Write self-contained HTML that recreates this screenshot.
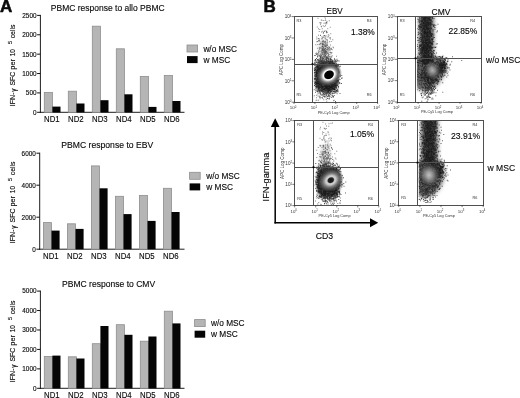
<!DOCTYPE html>
<html><head><meta charset="utf-8"><title>Figure</title>
<style>html,body{margin:0;padding:0;background:#fff;overflow:hidden}svg{display:block}text{font-family:"Liberation Sans",sans-serif;fill:#0a0a0a;stroke:#0a0a0a;stroke-width:.13px}text.t{stroke:none;fill:#333}</style>
</head><body>
<svg width="520" height="398" viewBox="0 0 520 398">
<rect width="520" height="398" fill="#fff"/>
<line x1="40.4" y1="14.9" x2="40.4" y2="112.8" stroke="#111" stroke-width="0.95"/>
<line x1="39.9" y1="112.3" x2="184.5" y2="112.3" stroke="#111" stroke-width="0.95"/>
<line x1="37.1" y1="112.3" x2="40.4" y2="112.3" stroke="#111" stroke-width="1.0"/>
<text x="36.5" y="114.65" font-size="6.4" text-anchor="end">0</text>
<line x1="37.1" y1="92.92" x2="40.4" y2="92.92" stroke="#111" stroke-width="1.0"/>
<text x="36.5" y="95.27" font-size="6.4" text-anchor="end">500</text>
<line x1="37.1" y1="73.53999999999999" x2="40.4" y2="73.53999999999999" stroke="#111" stroke-width="1.0"/>
<text x="36.5" y="75.89" font-size="6.4" text-anchor="end">1000</text>
<line x1="37.1" y1="54.16" x2="40.4" y2="54.16" stroke="#111" stroke-width="1.0"/>
<text x="36.5" y="56.51" font-size="6.4" text-anchor="end">1500</text>
<line x1="37.1" y1="34.78" x2="40.4" y2="34.78" stroke="#111" stroke-width="1.0"/>
<text x="36.5" y="37.13" font-size="6.4" text-anchor="end">2000</text>
<line x1="37.1" y1="15.400000000000006" x2="40.4" y2="15.400000000000006" stroke="#111" stroke-width="1.0"/>
<text x="36.5" y="17.75" font-size="6.4" text-anchor="end">2500</text>
<text x="50.8" y="11.0" font-size="8.6" textLength="113.8" lengthAdjust="spacingAndGlyphs">PBMC response to allo PBMC</text>
<rect x="44.30" y="92.50" width="8.10" height="19.80" fill="#b5b5b5" stroke="#8e8e8e" stroke-width="0.8"/>
<rect x="52.40" y="106.60" width="8.10" height="5.70" fill="#050505"/>
<text x="51.8" y="121.9" font-size="8.5" text-anchor="middle" textLength="15.6" lengthAdjust="spacingAndGlyphs">ND1</text>
<rect x="68.30" y="91.20" width="8.10" height="21.10" fill="#b5b5b5" stroke="#8e8e8e" stroke-width="0.8"/>
<rect x="76.40" y="103.50" width="8.10" height="8.80" fill="#050505"/>
<text x="75.8" y="121.9" font-size="8.5" text-anchor="middle" textLength="15.6" lengthAdjust="spacingAndGlyphs">ND2</text>
<rect x="92.30" y="26.20" width="8.10" height="86.10" fill="#b5b5b5" stroke="#8e8e8e" stroke-width="0.8"/>
<rect x="100.40" y="100.20" width="8.10" height="12.10" fill="#050505"/>
<text x="99.8" y="121.9" font-size="8.5" text-anchor="middle" textLength="15.6" lengthAdjust="spacingAndGlyphs">ND3</text>
<rect x="116.30" y="48.80" width="8.10" height="63.50" fill="#b5b5b5" stroke="#8e8e8e" stroke-width="0.8"/>
<rect x="124.40" y="94.30" width="8.10" height="18.00" fill="#050505"/>
<text x="123.8" y="121.9" font-size="8.5" text-anchor="middle" textLength="15.6" lengthAdjust="spacingAndGlyphs">ND4</text>
<rect x="140.30" y="76.50" width="8.10" height="35.80" fill="#b5b5b5" stroke="#8e8e8e" stroke-width="0.8"/>
<rect x="148.40" y="106.90" width="8.10" height="5.40" fill="#050505"/>
<text x="147.8" y="121.9" font-size="8.5" text-anchor="middle" textLength="15.6" lengthAdjust="spacingAndGlyphs">ND5</text>
<rect x="164.30" y="75.50" width="8.10" height="36.80" fill="#b5b5b5" stroke="#8e8e8e" stroke-width="0.8"/>
<rect x="172.40" y="101.00" width="8.10" height="11.30" fill="#050505"/>
<text x="171.8" y="121.9" font-size="8.5" text-anchor="middle" textLength="15.6" lengthAdjust="spacingAndGlyphs">ND6</text>
<rect x="187.00" y="45.00" width="10.60" height="7.00" fill="#b5b5b5" stroke="#8e8e8e" stroke-width="0.8"/>
<rect x="187.00" y="56.10" width="10.60" height="7.00" fill="#050505"/>
<text x="203.4" y="51.5" font-size="8.6" textLength="33.6" lengthAdjust="spacingAndGlyphs">w/o MSC</text>
<text x="203.4" y="62.6" font-size="8.6" textLength="26.8" lengthAdjust="spacingAndGlyphs">w MSC</text>
<text transform="translate(15.4,106.3) rotate(-90)" font-size="7.2" textLength="13.8" lengthAdjust="spacingAndGlyphs">IFN-</text>
<text transform="translate(16.4,91.8) rotate(-90)" font-size="6.4">γ</text>
<text transform="translate(15.4,85.6) rotate(-90)" font-size="7.2" textLength="14.0" lengthAdjust="spacingAndGlyphs">SFC</text>
<text transform="translate(15.4,69.7) rotate(-90)" font-size="7.2" textLength="10.6" lengthAdjust="spacingAndGlyphs">per</text>
<text transform="translate(15.4,56.3) rotate(-90)" font-size="7.2" textLength="7.2" lengthAdjust="spacingAndGlyphs">10</text>
<text transform="translate(12.4,44.1) rotate(-90)" font-size="5.4">5</text>
<text transform="translate(15.4,38.3) rotate(-90)" font-size="7.2" textLength="13.6" lengthAdjust="spacingAndGlyphs">cells</text>
<line x1="39.7" y1="152.7" x2="39.7" y2="249.7" stroke="#111" stroke-width="0.95"/>
<line x1="39.2" y1="249.2" x2="184.5" y2="249.2" stroke="#111" stroke-width="0.95"/>
<line x1="36.400000000000006" y1="249.2" x2="39.7" y2="249.2" stroke="#111" stroke-width="1.0"/>
<text x="35.800000000000004" y="251.55" font-size="6.4" text-anchor="end">0</text>
<line x1="36.400000000000006" y1="217.2" x2="39.7" y2="217.2" stroke="#111" stroke-width="1.0"/>
<text x="35.800000000000004" y="219.55" font-size="6.4" text-anchor="end">2000</text>
<line x1="36.400000000000006" y1="185.2" x2="39.7" y2="185.2" stroke="#111" stroke-width="1.0"/>
<text x="35.800000000000004" y="187.55" font-size="6.4" text-anchor="end">4000</text>
<line x1="36.400000000000006" y1="153.2" x2="39.7" y2="153.2" stroke="#111" stroke-width="1.0"/>
<text x="35.800000000000004" y="155.55" font-size="6.4" text-anchor="end">6000</text>
<text x="61.3" y="148.4" font-size="8.6" textLength="91.9" lengthAdjust="spacingAndGlyphs">PBMC response to EBV</text>
<rect x="43.40" y="222.60" width="8.10" height="26.60" fill="#b5b5b5" stroke="#8e8e8e" stroke-width="0.8"/>
<rect x="51.50" y="230.60" width="8.10" height="18.60" fill="#050505"/>
<text x="50.9" y="258.8" font-size="8.5" text-anchor="middle" textLength="15.6" lengthAdjust="spacingAndGlyphs">ND1</text>
<rect x="67.40" y="223.80" width="8.10" height="25.40" fill="#b5b5b5" stroke="#8e8e8e" stroke-width="0.8"/>
<rect x="75.50" y="228.90" width="8.10" height="20.30" fill="#050505"/>
<text x="74.9" y="258.8" font-size="8.5" text-anchor="middle" textLength="15.6" lengthAdjust="spacingAndGlyphs">ND2</text>
<rect x="91.40" y="165.90" width="8.10" height="83.30" fill="#b5b5b5" stroke="#8e8e8e" stroke-width="0.8"/>
<rect x="99.50" y="188.30" width="8.10" height="60.90" fill="#050505"/>
<text x="98.9" y="258.8" font-size="8.5" text-anchor="middle" textLength="15.6" lengthAdjust="spacingAndGlyphs">ND3</text>
<rect x="115.40" y="196.30" width="8.10" height="52.90" fill="#b5b5b5" stroke="#8e8e8e" stroke-width="0.8"/>
<rect x="123.50" y="214.10" width="8.10" height="35.10" fill="#050505"/>
<text x="122.9" y="258.8" font-size="8.5" text-anchor="middle" textLength="15.6" lengthAdjust="spacingAndGlyphs">ND4</text>
<rect x="139.40" y="195.50" width="8.10" height="53.70" fill="#b5b5b5" stroke="#8e8e8e" stroke-width="0.8"/>
<rect x="147.50" y="220.90" width="8.10" height="28.30" fill="#050505"/>
<text x="146.9" y="258.8" font-size="8.5" text-anchor="middle" textLength="15.6" lengthAdjust="spacingAndGlyphs">ND5</text>
<rect x="163.40" y="188.30" width="8.10" height="60.90" fill="#b5b5b5" stroke="#8e8e8e" stroke-width="0.8"/>
<rect x="171.50" y="212.00" width="8.10" height="37.20" fill="#050505"/>
<text x="170.9" y="258.8" font-size="8.5" text-anchor="middle" textLength="15.6" lengthAdjust="spacingAndGlyphs">ND6</text>
<rect x="189.60" y="172.30" width="10.60" height="7.00" fill="#b5b5b5" stroke="#8e8e8e" stroke-width="0.8"/>
<rect x="189.60" y="183.40" width="10.60" height="7.00" fill="#050505"/>
<text x="206.2" y="178.8" font-size="8.6" textLength="33.6" lengthAdjust="spacingAndGlyphs">w/o MSC</text>
<text x="206.2" y="189.9" font-size="8.6" textLength="26.8" lengthAdjust="spacingAndGlyphs">w MSC</text>
<text transform="translate(15.4,243.2) rotate(-90)" font-size="7.2" textLength="13.8" lengthAdjust="spacingAndGlyphs">IFN-</text>
<text transform="translate(16.4,228.7) rotate(-90)" font-size="6.4">γ</text>
<text transform="translate(15.4,222.5) rotate(-90)" font-size="7.2" textLength="14.0" lengthAdjust="spacingAndGlyphs">SFC</text>
<text transform="translate(15.4,206.6) rotate(-90)" font-size="7.2" textLength="10.6" lengthAdjust="spacingAndGlyphs">per</text>
<text transform="translate(15.4,193.2) rotate(-90)" font-size="7.2" textLength="7.2" lengthAdjust="spacingAndGlyphs">10</text>
<text transform="translate(12.4,181.0) rotate(-90)" font-size="5.4">5</text>
<text transform="translate(15.4,175.2) rotate(-90)" font-size="7.2" textLength="13.6" lengthAdjust="spacingAndGlyphs">cells</text>
<line x1="40.4" y1="290.6" x2="40.4" y2="388.8" stroke="#111" stroke-width="0.95"/>
<line x1="39.9" y1="388.3" x2="184.5" y2="388.3" stroke="#111" stroke-width="0.95"/>
<line x1="37.1" y1="388.3" x2="40.4" y2="388.3" stroke="#111" stroke-width="1.0"/>
<text x="36.5" y="390.65" font-size="6.4" text-anchor="end">0</text>
<line x1="37.1" y1="368.86" x2="40.4" y2="368.86" stroke="#111" stroke-width="1.0"/>
<text x="36.5" y="371.21" font-size="6.4" text-anchor="end">1000</text>
<line x1="37.1" y1="349.42" x2="40.4" y2="349.42" stroke="#111" stroke-width="1.0"/>
<text x="36.5" y="351.77" font-size="6.4" text-anchor="end">2000</text>
<line x1="37.1" y1="329.98" x2="40.4" y2="329.98" stroke="#111" stroke-width="1.0"/>
<text x="36.5" y="332.33" font-size="6.4" text-anchor="end">3000</text>
<line x1="37.1" y1="310.54" x2="40.4" y2="310.54" stroke="#111" stroke-width="1.0"/>
<text x="36.5" y="312.89" font-size="6.4" text-anchor="end">4000</text>
<line x1="37.1" y1="291.1" x2="40.4" y2="291.1" stroke="#111" stroke-width="1.0"/>
<text x="36.5" y="293.45" font-size="6.4" text-anchor="end">5000</text>
<text x="62.0" y="286.6" font-size="8.6" textLength="93.2" lengthAdjust="spacingAndGlyphs">PBMC response to CMV</text>
<rect x="44.30" y="356.40" width="8.10" height="31.90" fill="#b5b5b5" stroke="#8e8e8e" stroke-width="0.8"/>
<rect x="52.40" y="355.60" width="8.10" height="32.70" fill="#050505"/>
<text x="51.8" y="397.9" font-size="8.5" text-anchor="middle" textLength="15.6" lengthAdjust="spacingAndGlyphs">ND1</text>
<rect x="68.30" y="356.80" width="8.10" height="31.50" fill="#b5b5b5" stroke="#8e8e8e" stroke-width="0.8"/>
<rect x="76.40" y="358.50" width="8.10" height="29.80" fill="#050505"/>
<text x="75.8" y="397.9" font-size="8.5" text-anchor="middle" textLength="15.6" lengthAdjust="spacingAndGlyphs">ND2</text>
<rect x="92.30" y="343.70" width="8.10" height="44.60" fill="#b5b5b5" stroke="#8e8e8e" stroke-width="0.8"/>
<rect x="100.40" y="326.00" width="8.10" height="62.30" fill="#050505"/>
<text x="99.8" y="397.9" font-size="8.5" text-anchor="middle" textLength="15.6" lengthAdjust="spacingAndGlyphs">ND3</text>
<rect x="116.30" y="324.70" width="8.10" height="63.60" fill="#b5b5b5" stroke="#8e8e8e" stroke-width="0.8"/>
<rect x="124.40" y="334.80" width="8.10" height="53.50" fill="#050505"/>
<text x="123.8" y="397.9" font-size="8.5" text-anchor="middle" textLength="15.6" lengthAdjust="spacingAndGlyphs">ND4</text>
<rect x="140.30" y="341.20" width="8.10" height="47.10" fill="#b5b5b5" stroke="#8e8e8e" stroke-width="0.8"/>
<rect x="148.40" y="336.50" width="8.10" height="51.80" fill="#050505"/>
<text x="147.8" y="397.9" font-size="8.5" text-anchor="middle" textLength="15.6" lengthAdjust="spacingAndGlyphs">ND5</text>
<rect x="164.30" y="311.20" width="8.10" height="77.10" fill="#b5b5b5" stroke="#8e8e8e" stroke-width="0.8"/>
<rect x="172.40" y="323.40" width="8.10" height="64.90" fill="#050505"/>
<text x="171.8" y="397.9" font-size="8.5" text-anchor="middle" textLength="15.6" lengthAdjust="spacingAndGlyphs">ND6</text>
<rect x="194.60" y="319.60" width="10.60" height="7.00" fill="#b5b5b5" stroke="#8e8e8e" stroke-width="0.8"/>
<rect x="194.60" y="330.70" width="10.60" height="7.00" fill="#050505"/>
<text x="211.0" y="326.1" font-size="8.6" textLength="33.6" lengthAdjust="spacingAndGlyphs">w/o MSC</text>
<text x="211.0" y="337.2" font-size="8.6" textLength="26.8" lengthAdjust="spacingAndGlyphs">w MSC</text>
<text transform="translate(15.4,382.3) rotate(-90)" font-size="7.2" textLength="13.8" lengthAdjust="spacingAndGlyphs">IFN-</text>
<text transform="translate(16.4,367.8) rotate(-90)" font-size="6.4">γ</text>
<text transform="translate(15.4,361.6) rotate(-90)" font-size="7.2" textLength="14.0" lengthAdjust="spacingAndGlyphs">SFC</text>
<text transform="translate(15.4,345.7) rotate(-90)" font-size="7.2" textLength="10.6" lengthAdjust="spacingAndGlyphs">per</text>
<text transform="translate(15.4,332.3) rotate(-90)" font-size="7.2" textLength="7.2" lengthAdjust="spacingAndGlyphs">10</text>
<text transform="translate(12.4,320.1) rotate(-90)" font-size="5.4">5</text>
<text transform="translate(15.4,314.3) rotate(-90)" font-size="7.2" textLength="13.6" lengthAdjust="spacingAndGlyphs">cells</text>
<text x="0.1" y="12.4" font-size="17.0" font-weight="bold" style="stroke-width:.55px">A</text>
<text x="263.4" y="12.3" font-size="17.0" font-weight="bold" style="stroke-width:.55px">B</text>
<defs><filter id="b0" x="-5%" y="-5%" width="110%" height="110%"><feGaussianBlur stdDeviation="1.4"/></filter><filter id="b1" x="-30%" y="-30%" width="160%" height="160%"><feGaussianBlur stdDeviation="1.3"/></filter><filter id="b2" x="-30%" y="-30%" width="160%" height="160%"><feGaussianBlur stdDeviation="2"/></filter></defs>
<clipPath id="c29416"><rect x="313.8" y="16.6" width="63.80000000000001" height="85.6"/></clipPath>
<g clip-path="url(#c29416)">
<rect x="314.8" y="60.8" width="23.6" height="31" rx="9" ry="10" fill="#505050" filter="url(#b1)"/>
<ellipse cx="323.5" cy="52.8" rx="4.6" ry="14" fill="#999" opacity=".5" filter="url(#b2)"/>
<path transform="scale(.25)" d="m1266 217h0m20 4h0m16 2h0m-19 2h0m1 2h0m22 2h0m-24 1h0m33 3h0m7 0h0m-56 1h0m29 0h0m-14 1h0m10 0h0m-47 1h0m39 0h0m23 0h0m14 0h0m-15 1h0m9 0h0m-52 1h0m8 0h0m5 0h0m48 0h0m-44 3h0m36 0h0m-42 1h0m56 0h0m-42 1h0m22 1h0m20 1h0m-46 1h0m31 0h0m7 1h0m-42 1h0m16 0h0m9 1h0m-16 1h0m3 1h0m8 0h0m5 0h0m16 0h0m-43 1h0m15 0h0m29 0h0m18 0h0m1 0h0m-39 1h0m-20 1h0m40 0h0m-27 1h0m45 1h0m-67 1h0m27 0h0m26 0h0m-26 1h0m4 0h0m34 0h0m-36 1h0m2 0h0m5 0h0m14 0h0m2 1h0m1 0h0m3 0h0m15 0h0m-86 1h0m35 0h0m5 0h0m1 0h0m6 0h0m8 0h0m3 0h0m-36 1h0m51 0h0m-60 1h0m10 0h0m27 0h0m2 0h0m16 0h0m16 0h0m2 0h0m-71 1h0m26 0h0m5 0h0m-16 1h0m8 0h0m8 0h0m1 0h0m1 0h0m1 0h0m10 0h0m-26 1h0m4 0h0m7 0h0m12 0h0m-10 1h0m18 0h0m16 0h0m16 0h0m-86 1h0m3 0h0m28 0h0m6 0h0m1 0h0m-17 1h0m9 0h0m3 0h0m11 0h0m16 0h0m-64 1h0m11 0h0m7 0h0m3 0h0m3 0h0m15 0h0m15 0h0m6 0h0m2 0h0m2 0h0m-29 1h0m1 0h0m9 0h0m32 0h0m-57 1h0m7 0h0m6 0h0m11 0h0m1 0h0m1 0h0m10 0h0m-61 1h0m23 0h0m13 0h0m2 0h0m31 0h0m-38 1h0m2 0h0m2 0h0m9 0h0m11 0h0m24 0h0m-61 1h0m12 0h0m3 0h0m6 0h0m23 0h0m-42 1h0m4 0h0m7 0h0m11 0h0m13 0h0m2 0h0m-38 1h0m18 0h0m5 0h0m8 0h0m1 0h0m1 0h0m5 0h0m2 0h0m-78 1h0m38 0h0m6 0h0m13 0h0m5 0h0m15 0h0m3 0h0m1 0h0m3 0h0m1 0h0m2 0h0m4 0h0m5 0h0m1 0h0m7 0h0m10 0h0m-97 1h0m26 0h0m10 0h0m5 0h0m1 0h0m7 0h0m14 0h0m26 0h0m-73 1h0m6 0h0m8 0h0m12 0h0m7 0h0m5 0h0m5 0h0m28 0h0m-85 1h0m12 0h0m2 0h0m9 0h0m2 0h0m4 0h0m5 0h0m20 0h0m10 0h0m5 0h0m15 0h0m-83 1h0m20 0h0m24 0h0m4 0h0m8 0h0m-50 1h0m18 0h0m9 0h0m3 0h0m19 0h0m13 0h0m3 0h0m15 0h0m9 0h0m-74 1h0m6 0h0m23 0h0m2 0h0m44 0h0m-109 1h0m42 0h0m1 0h0m4 0h0m3 0h0m1 0h0m4 0h0m2 0h0m9 0h0m9 0h0m2 0h0m3 0h0m4 0h0m16 0h0m-106 1h0m42 0h0m1 0h0m1 0h0m2 0h0m9 0h0m19 0h0m3 0h0m1 0h0m2 0h0m6 0h0m3 0h0m-52 1h0m10 0h0m8 0h0m8 0h0m21 0h0m3 0h0m20 0h0m-119 1h0m55 0h0m12 0h0m4 0h0m3 0h0m-25 1h0m17 0h0m10 0h0m4 0h0m40 0h0m6 0h0m-88 1h0m3 0h0m10 0h0m14 0h0m11 0h0m34 0h0m4 0h0m-85 1h0m1 0h0m3 0h0m5 0h0m31 0h0m2 0h0m6 0h0m49 0h0m-88 1h0m1 0h0m18 0h0m3 0h0m3 0h0m4 0h0m18 0h0m1 0h0m6 0h0m2 0h0m5 0h0m3 0h0m-36 1h0m8 0h0m9 0h0m7 0h0m5 0h0m17 0h0m16 0h0m-86 1h0m29 0h0m5 0h0m2 0h0m4 0h0m6 0h0m7 0h0m2 0h0m19 0h0m-70 1h0m8 0h0m17 0h0m3 0h0m13 0h0m4 0h0m13 0h0m11 0h0m8 0h0m-68 1h0m9 0h0m6 0h0m3 0h0m2 0h0m3 0h0m2 0h0m6 0h0m6 0h0m17 0h0m1 0h0m15 0h0m-88 1h0m15 0h0m4 0h0m17 0h0m4 0h0m7 0h0m5 0h0m5 0h0m15 0h0m-54 1h0m7 0h0m1 0h0m12 0h0m14 0h0m6 0h0m2 0h0m-60 1h0m17 0h0m12 0h0m16 0h0m20 0h0m21 0h0m-71 1h0m3 0h0m9 0h0m6 0h0m1 0h0m2 0h0m5 0h0m35 0h0m6 0h0m14 0h0m-82 1h0m2 0h0m4 0h0m3 0h0m3 0h0m10 0h0m4 0h0m2 0h0m4 0h0m3 0h0m8 0h0m6 0h0m23 0h0m-81 1h0m12 0h0m5 0h0m1 0h0m5 0h0m9 0h0m2 0h0m1 0h0m8 0h0m54 0h0m-87 1h0m6 0h0m2 0h0m12 0h0m5 0h0m1 0h0m3 0h0m14 0h0m9 0h0m2 0h0m-73 1h0m19 0h0m5 0h0m17 0h0m1 0h0m5 0h0m17 0h0m13 0h0m23 0h0m-96 1h0m15 0h0m9 0h0m1 0h0m13 0h0m8 0h0m11 0h0m10 0h0m2 0h0m1 0h0m-75 1h0m7 0h0m8 0h0m3 0h0m16 0h0m3 0h0m3 0h0m10 0h0m8 0h0m4 0h0m12 0h0m5 0h0m21 0h0m-92 1h0m13 0h0m12 0h0m11 0h0m11 0h0m4 0h0m9 0h0m2 0h0m1 0h0m4 0h0m4 0h0m-55 1h0m18 0h0m6 0h0m3 0h0m1 0h0m4 0h0m1 0h0m-43 1h0m17 0h0m5 0h0m10 0h0m6 0h0m2 0h0m2 0h0m17 0h0m-63 1h0m22 0h0m5 0h0m12 0h0m4 0h0m6 0h0m4 0h0m15 0h0m4 0h0m1 0h0m-59 1h0m14 0h0m2 0h0m3 0h0m3 0h0m2 0h0m1 0h0m2 0h0m7 0h0m8 0h0m8 0h0m34 0h0m-97 1h0m2 0h0m7 0h0m3 0h0m5 0h0m2 0h0m15 0h0m2 0h0m5 0h0m16 0h0m3 0h0m-77 1h0m22 0h0m6 0h0m2 0h0m1 0h0m5 0h0m9 0h0m8 0h0m7 0h0m5 0h0m27 0h0m-86 1h0m45 0h0m4 0h0m7 0h0m2 0h0m23 0h0m26 0h0m-97 1h0m4 0h0m15 0h0m2 0h0m6 0h0m4 0h0m4 0h0m3 0h0m12 0h0m3 0h0m4 0h0m2 0h0m14 0h0m-59 1h0m13 0h0m21 0h0m-60 1h0m8 0h0m3 0h0m1 0h0m6 0h0m15 0h0m12 0h0m3 0h0m3 0h0m46 0h0m-104 1h0m19 0h0m6 0h0m10 0h0m18 0h0m8 0h0m14 0h0m6 0h0m12 0h0m-59 1h0m11 0h0m9 0h0m4 0h0m7 0h0m7 0h0m2 0h0m4 0h0m4 0h0m3 0h0m-50 1h0m4 0h0m9 0h0m1 0h0m1 0h0m1 0h0m6 0h0m5 0h0m1 0h0m-34 1h0m3 0h0m2 0h0m12 0h0m1 0h0m11 0h0m3 0h0m16 0h0m5 0h0m-65 1h0m15 0h0m8 0h0m1 0h0m9 0h0m2 0h0m4 0h0m4 0h0m21 0h0m19 0h0m-85 1h0m9 0h0m21 0h0m8 0h0m7 0h0m3 0h0m35 0h0m-58 1h0m3 0h0m1 0h0m7 0h0m2 0h0m2 0h0m-35 1h0m4 0h0m30 0h0m2 0h0m2 0h0m-30 1h0m11 0h0m9 0h0m6 0h0m-35 1h0m7 0h0m2 0h0m23 0h0m1 0h0m13 0h0m1 0h0m3 0h0m2 0h0m1 0h0m-64 1h0m15 0h0m5 0h0m10 0h0m7 0h0m5 0h0m-38 1h0m1 0h0m23 0h0m2 0h0m3 0h0m2 0h0m6 0h0m4 0h0m1 0h0m1 0h0m18 0h0m21 0h0m-65 1h0m10 0h0m2 0h0m3 0h0m27 0h0m12 0h0m-50 1h0m11 0h0m3 0h0m3 0h0m7 0h0m25 0h0m24 0h0m-85 1h0m14 0h0m7 0h0m1 0h0m1 0h0m4 0h0m13 0h0m11 0h0m3 0h0m2 0h0m-64 1h0m3 0h0m6 0h0m8 0h0m18 0h0m7 0h0m15 0h0m2 0h0m25 0h0m-82 1h0m3 0h0m14 0h0m10 0h0m7 0h0m2 0h0m6 0h0m10 0h0m1 0h0m47 0h0m-58 1h0m10 0h0m4 0h0m11 0h0m8 0h0m-80 1h0m17 0h0m3 0h0m28 0h0m12 0h0m-45 1h0m12 0h0m2 0h0m3 0h0m2 0h0m6 0h0m5 0h0m2 0h0m2 0h0m5 0h0m5 0h0m5 0h0m6 0h0m13 0h0m-82 1h0m23 0h0m20 0h0m2 0h0m6 0h0m15 0h0m-17 1h0m12 0h0m1 0h0m4 0h0m24 0h0m-83 1h0m29 0h0m10 0h0m26 0h0m-61 1h0m27 0h0m2 0h0m28 0h0m-71 1h0m16 0h0m9 0h0m16 0h0m2 0h0m4 0h0m1 0h0m3 0h0m7 0h0m9 0h0m-34 1h0m6 0h0m1 0h0m5 0h0m2 0h0m10 0h0m16 0h0m10 0h0m-57 1h0m12 0h0m25 0h0m-44 1h0m10 0h0m16 0h0m2 0h0m3 0h0m26 0h0m-47 1h0m5 0h0m10 0h0m2 0h0m17 0h0m5 0h0m-63 1h0m6 0h0m20 0h0m2 0h0m10 0h0m3 0h0m7 0h0m2 0h0m5 0h0m9 0h0m-47 1h0m21 0h0m2 0h0m21 0h0m-43 1h0m5 0h0m13 0h0m9 0h0m2 0h0m43 0h0m-76 1h0m47 0h0m-19 1h0m14 0h0m-74 1h0m29 0h0m30 0h0m15 0h0m-44 1h0m14 0h0m45 0h0m-23 1h0m3 0h0m16 0h0m2 0h0m-59 1h0m2 0h0m23 0h0m3 0h0m2 1h0m6 0h0m3 0h0m6 0h0m-23 1h0m2 0h0m16 0h0m-19 1h0m27 0h0m-12 1h0m21 0h0m8 0h0m-84 1h0m20 0h0m6 0h0m10 0h0m21 0h0m1 0h0m5 0h0m-7 1h0m4 0h0m-10 1h0m15 0h0m-57 1h0m32 1h0m14 0h0m3 0h0m4 0h0m6 0h0m-27 1h0m10 0h0m4 0h0m-18 1h0m33 0h0m12 0h0m-22 1h0m11 0h0m7 0h0m8 1h0m-32 1h0m3 0h0m-14 2h0m12 2h0m-16 1h0m7 0h0m4 0h0m56 0h0m-55 1h0m24 0h0m-23 4h0m-17 1h0m-33 2h0m49 0h0m24 1h0m-34 1h0m19 0h0m-2 1h0m19 0h0m3 0h0m-35 3h0m35 0h0m-7 2h0m-17 4h0m6 1h0m1 0h0m-65 2h0m53 0h0m-40 4h0m8 0h0m69 5h0" stroke="#1a1a1a" stroke-width="2.8" stroke-linecap="square" fill="none" opacity="1" filter="url(#b0)"/>
<path transform="scale(.25)" d="m1338 235h0m-13 2h0m23 0h0m-9 1h0m-78 2h0m2 1h0m30 0h0m51 0h0m-23 1h0m20 0h0m10 0h0m-90 2h0m76 0h0m19 0h0m-71 1h0m3 0h0m18 0h0m14 0h0m3 0h0m12 0h0m13 0h0m-62 1h0m13 0h0m14 0h0m2 0h0m15 0h0m15 0h0m-19 1h0m14 0h0m2 0h0m-75 1h0m8 0h0m17 0h0m-19 1h0m20 0h0m30 0h0m1 0h0m5 0h0m1 0h0m-71 1h0m6 0h0m7 0h0m39 0h0m6 0h0m-26 1h0m14 0h0m13 0h0m-35 1h0m8 0h0m42 0h0m-48 1h0m32 0h0m8 0h0m1 0h0m6 0h0m2 0h0m12 0h0m-87 1h0m27 0h0m5 0h0m5 0h0m23 0h0m1 0h0m11 0h0m1 0h0m-37 1h0m19 0h0m-14 1h0m37 0h0m-79 1h0m35 0h0m10 0h0m9 0h0m8 0h0m18 0h0m2 0h0m12 0h0m-85 1h0m6 0h0m54 0h0m2 0h0m-55 1h0m11 0h0m26 0h0m7 0h0m16 0h0m-74 1h0m38 0h0m5 0h0m1 0h0m16 0h0m12 0h0m11 0h0m-27 1h0m27 0h0m6 0h0m-60 1h0m28 0h0m17 0h0m20 0h0m-65 1h0m25 0h0m4 0h0m14 0h0m9 0h0m4 0h0m3 0h0m-82 1h0m38 0h0m6 0h0m6 0h0m29 0h0m-71 1h0m12 0h0m16 0h0m6 0h0m31 0h0m8 0h0m2 0h0m12 0h0m-93 1h0m28 0h0m5 0h0m10 0h0m22 0h0m-45 1h0m1 0h0m9 0h0m16 0h0m5 0h0m23 0h0m3 0h0m14 0h0m-90 1h0m10 0h0m30 0h0m15 0h0m22 1h0m-62 1h0m16 0h0m7 0h0m6 0h0m8 0h0m23 0h0m-58 1h0m2 0h0m6 0h0m7 0h0m27 0h0m-67 1h0m8 0h0m4 0h0m13 0h0m8 0h0m18 0h0m10 0h0m4 0h0m4 0h0m-66 1h0m8 0h0m6 0h0m4 0h0m1 0h0m12 0h0m6 0h0m8 0h0m21 0h0m12 0h0m-46 1h0m2 0h0m3 0h0m2 0h0m3 0h0m12 0h0m9 0h0m20 0h0m-94 1h0m26 0h0m20 0h0m25 0h0m5 0h0m22 0h0m-70 1h0m15 0h0m11 0h0m1 0h0m3 0h0m14 0h0m-54 1h0m3 0h0m9 0h0m5 0h0m10 0h0m18 0h0m15 0h0m1 0h0m9 0h0m6 0h0m-86 1h0m1 0h0m47 0h0m4 0h0m29 0h0m-72 1h0m51 0h0m17 0h0m2 0h0m3 0h0m-56 1h0m13 0h0m5 0h0m23 0h0m-63 1h0m19 0h0m39 0h0m-66 1h0m28 0h0m5 0h0m11 0h0m34 0h0m1 0h0m-69 1h0m4 0h0m10 0h0m3 0h0m5 0h0m18 0h0m6 0h0m4 0h0m21 0h0m-73 1h0m6 0h0m18 0h0m9 0h0m2 0h0m33 0h0m12 0h0m-80 1h0m10 0h0m28 0h0m4 0h0m12 0h0m18 0h0m11 0h0m-74 1h0m34 0h0m47 0h0m-80 1h0m3 0h0m55 0h0m4 0h0m6 0h0m-75 1h0m12 0h0m2 0h0m12 0h0m8 0h0m44 0h0m1 0h0m-86 1h0m24 0h0m4 0h0m36 0h0m19 0h0m5 0h0m-61 1h0m6 0h0m14 0h0m7 0h0m5 0h0m36 0h0m-75 1h0m7 0h0m10 0h0m28 0h0m8 0h0m13 0h0m-66 1h0m28 0h0m31 0h0m1 0h0m-54 1h0m17 0h0m11 0h0m15 0h0m13 0h0m-77 1h0m3 0h0m16 0h0m4 0h0m19 0h0m7 0h0m10 0h0m-56 1h0m19 0h0m4 0h0m36 0h0m6 0h0m-55 1h0m9 0h0m14 0h0m24 0h0m6 0h0m-60 1h0m20 0h0m1 0h0m1 0h0m9 0h0m-42 1h0m5 0h0m15 0h0m5 0h0m9 0h0m17 0h0m10 0h0m17 0h0m-61 1h0m37 0h0m4 0h0m8 0h0m15 0h0m7 0h0m-69 1h0m32 0h0m5 0h0m-58 1h0m9 0h0m29 0h0m2 0h0m23 0h0m6 0h0m1 0h0m6 0h0m4 0h0m-72 1h0m8 0h0m6 0h0m51 0h0m18 0h0m-42 1h0m14 0h0m23 0h0m-82 1h0m12 0h0m7 0h0m3 0h0m39 0h0m-38 1h0m23 0h0m8 0h0m24 0h0m7 0h0m1 0h0m-83 1h0m1 0h0m69 0h0m7 0h0m-60 1h0m14 0h0m21 0h0m22 0h0m9 0h0m-26 1h0m17 0h0m3 0h0m-71 1h0m1 0h0m11 0h0m11 0h0m4 0h0m8 0h0m4 0h0m36 0h0m7 0h0m-61 1h0m1 0h0m11 0h0m24 0h0m2 0h0m5 0h0m2 0h0m-58 1h0m20 0h0m28 0h0m1 0h0m-55 1h0m7 0h0m7 0h0m10 0h0m2 0h0m6 0h0m10 0h0m-55 1h0m2 0h0m38 0h0m4 0h0m19 0h0m24 0h0m-50 1h0m2 0h0m3 0h0m37 0h0m-81 1h0m12 0h0m1 0h0m3 0h0m17 0h0m38 0h0m-59 1h0m1 0h0m19 0h0m16 0h0m2 0h0m10 0h0m26 0h0m-83 1h0m12 0h0m1 0h0m5 0h0m7 0h0m12 0h0m2 0h0m-25 1h0m38 0h0m5 0h0m41 0h0m-81 1h0m36 0h0m19 0h0m-27 1h0m19 1h0m12 0h0m13 0h0m-66 1h0m20 0h0m12 0h0m2 0h0m6 0h0m5 0h0m7 0h0m5 0h0m-75 1h0m13 0h0m24 0h0m35 0h0m8 0h0m1 0h0m6 0h0m-79 1h0m7 0h0m16 0h0m49 0h0m2 0h0m-95 1h0m57 0h0m43 0h0m-84 1h0m7 0h0m63 0h0m3 0h0m-61 1h0m7 0h0m3 0h0m1 0h0m10 0h0m11 0h0m13 0h0m-63 1h0m23 0h0m26 0h0m7 1h0m3 0h0m5 0h0m22 0h0m-87 1h0m5 0h0m5 0h0m7 0h0m8 0h0m6 0h0m36 0h0m4 0h0m-73 1h0m4 0h0m11 0h0m7 0h0m12 0h0m11 0h0m12 0h0m-48 1h0m2 0h0m18 0h0m48 0h0m4 0h0m13 0h0m2 0h0m-99 1h0m27 0h0m2 0h0m38 0h0m35 0h0m-74 1h0m5 0h0m25 0h0m24 0h0m-73 1h0m6 0h0m6 0h0m58 0h0m7 0h0m-71 1h0m49 0h0m10 0h0m7 0h0m-71 1h0m58 0h0m6 0h0m-53 1h0m24 0h0m-37 1h0m15 0h0m21 0h0m-17 1h0m13 0h0m10 0h0m5 0h0m15 0h0m8 0h0m1 0h0m1 0h0m-32 1h0m38 0h0m3 0h0m3 0h0m-92 1h0m27 0h0m13 0h0m12 0h0m4 0h0m34 0h0m-80 1h0m30 0h0m20 0h0m23 0h0m-67 1h0m1 0h0m10 0h0m2 0h0m14 0h0m13 0h0m29 0h0m-77 1h0m67 0h0m2 0h0m-72 1h0m40 0h0m14 0h0m12 0h0m15 0h0m10 0h0m-82 1h0m19 0h0m16 0h0m7 0h0m4 0h0m5 0h0m6 0h0m5 0h0m-68 1h0m2 0h0m50 0h0m1 0h0m4 0h0m4 0h0m11 0h0m7 0h0m-70 1h0m14 0h0m14 0h0m12 0h0m-7 1h0m4 0h0m14 0h0m17 0h0m-16 1h0m11 0h0m-74 1h0m4 0h0m5 0h0m14 0h0m5 0h0m1 0h0m4 0h0m8 0h0m14 0h0m2 0h0m6 0h0m3 0h0m1 0h0m6 0h0m9 0h0m-60 1h0m20 0h0m6 0h0m7 0h0m9 0h0m16 0h0m-45 1h0m5 0h0m5 0h0m-6 1h0m1 0h0m10 0h0m13 0h0m12 0h0m-76 1h0m55 0h0m19 0h0m15 0h0m-77 1h0m42 0h0m17 0h0m2 0h0m2 0h0m-82 1h0m29 0h0m6 0h0m7 0h0m26 0h0m12 0h0m3 0h0m-67 1h0m72 0h0m6 0h0m-82 1h0m11 0h0m39 0h0m7 0h0m16 0h0m-42 1h0m3 0h0m26 0h0m-52 1h0m5 0h0m5 0h0m3 0h0m57 0h0m5 0h0m-74 1h0m37 0h0m3 0h0m27 0h0m2 0h0m-77 1h0m22 0h0m46 0h0m14 0h0m-79 1h0m13 0h0m2 0h0m-18 1h0m8 0h0m37 0h0m19 0h0m15 0h0m-65 1h0m31 0h0m7 0h0m19 0h0m12 0h0m-75 1h0m25 0h0m38 0h0m7 0h0m-33 1h0m-7 1h0m16 0h0m-42 1h0m29 1h0m7 0h0m27 0h0m-9 1h0m-17 1h0m-5 1h0m-16 3h0m20 1h0m-30 1h0" stroke="#1a1a1a" stroke-width="2.8" stroke-linecap="square" fill="none" opacity="1" filter="url(#b0)"/>
<path transform="scale(.25)" d="m1269 364h0m35 0h0m11 1h0m-15 1h0m26 0h0m-34 1h0m6 0h0m43 0h0m-71 1h0m9 0h0m62 0h0m-46 1h0m2 0h0m2 0h0m3 0h0m7 0h0m-47 1h0m28 0h0m21 0h0m3 0h0m4 0h0m-14 1h0m14 0h0m-42 1h0m18 0h0m28 0h0m8 0h0m-54 1h0m7 0h0m-1 1h0m12 0h0m11 0h0m11 0h0m5 0h0m10 0h0m6 0h0m-9 1h0m21 0h0m-78 1h0m22 0h0m0 1h0m2 0h0m3 0h0m5 0h0m-20 1h0m17 0h0m12 0h0m11 0h0m-42 1h0m8 0h0m33 0h0m-8 1h0m-48 1h0m48 0h0m-1 1h0m4 0h0m21 0h0m-10 1h0m-56 1h0m21 0h0m6 0h0m19 0h0m-41 1h0m3 0h0m16 0h0m7 0h0m-6 1h0m13 0h0m-55 1h0m43 0h0m21 0h0m1 0h0m-16 1h0m4 0h0m9 0h0m-39 1h0m3 0h0m9 0h0m-2 1h0m-22 1h0m18 0h0m7 3h0m-11 1h0m15 4h0m42 2h0m-3 2h0m-27 2h0m0 31h0" stroke="#3c3c3c" stroke-width="2.8" stroke-linecap="square" fill="none" opacity="0.85" filter="url(#b0)"/>
<path transform="scale(.25)" d="m1300 71h0m-28 2h0m30 3h0m-17 4h0m3 1h0m7 1h0m8 0h0m14 1h0m-9 3h0m-3 4h0m1 0h0m-27 1h0m4 0h0m24 0h0m-23 1h0m17 0h0m-5 1h0m11 0h0m-3 3h0m-22 1h0m11 6h0m9 0h0m-17 2h0m12 1h0m-11 1h0m-17 1h0m52 1h0m-47 6h0m15 0h0m22 0h0m-32 3h0m21 5h0m5 1h0m-14 1h0m-14 1h0m21 0h0m8 0h0m1 0h0m-21 2h0m8 1h0m12 0h0m3 1h0m-3 1h0m-13 1h0m1 0h0m29 3h0m-10 4h0m-39 2h0m8 0h0m34 0h0m-34 1h0m16 0h0m0 1h0m1 0h0m5 0h0m-10 1h0m-6 3h0m26 0h0m-47 1h0m35 0h0m7 0h0m-18 2h0m5 0h0m26 1h0m-4 1h0m-45 2h0m28 0h0m-27 1h0m13 0h0m2 0h0m-22 1h0m11 0h0m44 0h0m-18 1h0m4 2h0m23 0h0m-22 1h0m-35 2h0m4 0h0m16 1h0m16 1h0m-20 1h0m1 0h0m11 0h0m-32 1h0m6 0h0m17 0h0m32 0h0m-58 1h0m32 0h0m19 0h0m-34 1h0m15 0h0m4 0h0m-7 1h0m14 2h0m-20 1h0m15 0h0m-3 1h0m-20 1h0m9 0h0m-4 1h0m5 0h0m-12 1h0m12 0h0m8 1h0m10 0h0m-39 1h0m8 0h0m11 0h0m1 0h0m4 0h0m-32 1h0m37 0h0m6 0h0m-14 1h0m30 0h0m-14 2h0m1 0h0m-9 1h0m4 0h0m-13 1h0m7 0h0m3 0h0m-13 1h0m4 0h0m10 0h0m2 0h0m-14 1h0m0 1h0m14 0h0m9 0h0m6 1h0m13 0h0m-40 1h0m2 0h0m11 0h0m-25 1h0m31 0h0m7 0h0m-23 1h0m39 0h0m-55 1h0m7 0h0m24 0h0m-39 1h0m9 0h0m34 0h0m4 0h0m7 0h0m-35 1h0m3 0h0m8 0h0m1 0h0m10 0h0m-15 1h0m26 0h0m-35 1h0m37 0h0m-47 1h0m14 0h0m13 0h0m20 0h0m-35 1h0m6 0h0m1 0h0m15 0h0m5 0h0m-25 1h0m13 0h0m4 0h0m20 0h0m-38 1h0m6 0h0m1 0h0m2 0h0m11 0h0m10 0h0m-35 1h0m6 0h0m4 0h0m-6 1h0m13 0h0m13 0h0m-15 1h0m-27 1h0m19 0h0m1 0h0m2 0h0m-17 1h0m21 0h0m3 0h0m-18 1h0m20 0h0m-8 1h0m2 0h0m4 0h0m9 0h0m-21 1h0m11 0h0m3 0h0m1 0h0m-32 1h0m18 0h0m11 0h0m16 0h0m3 0h0m-35 1h0m11 0h0m2 0h0m24 0h0m-31 1h0m18 0h0m17 0h0m-63 1h0m10 0h0m28 0h0m2 0h0m21 0h0m-35 1h0m9 0h0m1 0h0m8 0h0m3 0h0m-43 1h0m31 0h0m-37 1h0m25 0h0m25 0h0m-42 1h0m12 0h0m13 0h0m27 0h0m-26 1h0m6 0h0m3 0h0m-16 1h0m9 0h0m17 0h0m-47 1h0m12 0h0m34 0h0m-41 1h0m20 0h0m20 1h0m-56 1h0m4 0h0m16 0h0m21 0h0m-18 1h0m21 0h0m10 0h0m17 0h0m-59 1h0m2 0h0m23 1h0m1 0h0m20 0h0m8 0h0m22 0h0m-76 1h0m9 0h0m20 0h0m1 0h0m-17 1h0m9 0h0m15 0h0m1 0h0m8 0h0m-46 1h0m41 0h0m5 0h0m4 0h0m5 0h0m2 0h0m-36 1h0m15 0h0m-21 1h0m12 0h0m13 0h0m-19 1h0m9 0h0m2 0h0m7 0h0m1 0h0m2 0h0m-22 1h0m-4 1h0m6 0h0m14 0h0m4 0h0m-30 1h0m12 0h0m16 0h0m3 0h0m2 0h0m-21 1h0m11 0h0m7 0h0m2 0h0m4 1h0m6 0h0m-16 1h0m14 0h0m4 0h0m-62 1h0m22 0h0m19 0h0m3 0h0m17 0h0m-42 1h0m1 0h0m8 0h0m1 0h0m13 0h0m-29 1h0m13 0h0m4 0h0m6 0h0m1 0h0m7 0h0m19 0h0m6 0h0m-62 1h0m11 0h0m26 0h0m3 0h0m4 0h0m-38 1h0m14 0h0m17 0h0m2 0h0m-51 1h0m22 0h0m1 0h0m5 0h0m13 0h0m29 0h0m-45 1h0m10 0h0m-24 1h0m15 0h0m2 0h0m1 0h0m11 0h0m-20 1h0m5 0h0m18 0h0m11 0h0m7 0h0m-45 1h0m4 0h0m9 0h0m4 0h0m3 0h0m4 0h0m4 0h0m4 0h0m12 0h0m-54 1h0m15 0h0m11 0h0m11 0h0m3 0h0m5 0h0m-29 1h0m10 0h0m5 0h0m-43 1h0m22 0h0m19 0h0m3 0h0m6 0h0m4 0h0m17 0h0m2 0h0m-44 1h0m8 0h0m2 0h0m1 0h0m7 0h0m1 0h0m12 0h0m7 0h0m-30 1h0m38 0h0m-20 1h0m21 0h0m-46 1h0m10 0h0m6 0h0m1 0h0m15 0h0m8 0h0m-59 1h0m9 0h0m16 0h0m27 0h0m7 0h0m5 0h0m-39 1h0m23 0h0m21 0h0m-60 1h0m8 0h0m14 0h0m9 0h0m33 0h0m-55 1h0m3 0h0m8 0h0m1 0h0m2 0h0m2 0h0m1 0h0m12 0h0m-33 1h0m3 0h0m10 0h0m12 0h0m2 0h0m13 0h0m4 0h0m-55 1h0m10 0h0m8 0h0m1 0h0m2 0h0m3 0h0m5 0h0m4 0h0m10 0h0m1 0h0m5 0h0m-32 1h0m6 0h0m5 0h0m7 0h0m5 0h0m2 0h0m1 0h0m-24 1h0m3 0h0m13 0h0m4 0h0m2 0h0m4 0h0m-28 1h0m9 0h0m4 0h0m3 0h0m5 0h0m2 0h0m9 0h0m2 0h0m-54 1h0m18 0h0m16 0h0m1 0h0m3 0h0m10 0h0m20 0h0m-47 1h0m23 0h0m2 0h0m3 0h0m4 0h0m-33 1h0m4 0h0m6 0h0m5 0h0m6 0h0m6 0h0m2 0h0m3 0h0m2 0h0m-39 1h0m9 0h0m11 0h0m4 0h0m8 0h0m2 0h0m4 0h0m20 0h0" stroke="#3c3c3c" stroke-width="2.8" stroke-linecap="square" fill="none" opacity="0.85" filter="url(#b0)"/>
<radialGradient id="g29416"><stop offset="0" stop-color="#000"/><stop offset="0.33" stop-color="#050505"/><stop offset="0.41" stop-color="#fff"/><stop offset="0.47" stop-color="#f0f0f0"/><stop offset="0.54" stop-color="#b8b8b8"/><stop offset="0.64" stop-color="#858585" stop-opacity=".95"/><stop offset="0.8" stop-color="#5a5a5a" stop-opacity=".7"/><stop offset="1" stop-color="#4d4d4d" stop-opacity="0"/></radialGradient>
<ellipse cx="329.0" cy="74.8" rx="13.6" ry="11.0" fill="url(#g29416)" transform="rotate(-30 329.0 74.8)"/>
</g>
<rect x="294.5" y="16.5" width="83.0" height="86.0" fill="none" stroke="#505050" stroke-width="1"/>
<line x1="312.5" y1="16.6" x2="312.5" y2="102.2" stroke="#505050" stroke-width="1"/>
<line x1="294.0" y1="64.5" x2="377.6" y2="64.5" stroke="#505050" stroke-width="1"/>
<rect x="311.60" y="63.10" width="1.80" height="1.80" fill="#000"/>
<line x1="294.0" y1="102.2" x2="294.0" y2="104.0" stroke="#222" stroke-width="0.6"/>
<line x1="291.6" y1="102.2" x2="294.0" y2="102.2" stroke="#222" stroke-width="0.6"/>
<text x="293.0" y="109.4" font-size="4.4" text-anchor="middle" class="t">10<tspan dy="-1.5" font-size="2.8">0</tspan></text>
<text x="291.4" y="103.9" font-size="4.6" text-anchor="end" class="t">10<tspan dy="-1.5" font-size="2.9">0</tspan></text>
<line x1="314.9" y1="102.2" x2="314.9" y2="104.0" stroke="#222" stroke-width="0.6"/>
<line x1="291.6" y1="80.80000000000001" x2="294.0" y2="80.80000000000001" stroke="#222" stroke-width="0.6"/>
<text x="313.9" y="109.4" font-size="4.4" text-anchor="middle" class="t">10<tspan dy="-1.5" font-size="2.8">1</tspan></text>
<text x="291.4" y="82.5" font-size="4.6" text-anchor="end" class="t">10<tspan dy="-1.5" font-size="2.9">1</tspan></text>
<line x1="335.8" y1="102.2" x2="335.8" y2="104.0" stroke="#222" stroke-width="0.6"/>
<line x1="291.6" y1="59.400000000000006" x2="294.0" y2="59.400000000000006" stroke="#222" stroke-width="0.6"/>
<text x="334.8" y="109.4" font-size="4.4" text-anchor="middle" class="t">10<tspan dy="-1.5" font-size="2.8">2</tspan></text>
<text x="291.4" y="61.1" font-size="4.6" text-anchor="end" class="t">10<tspan dy="-1.5" font-size="2.9">2</tspan></text>
<line x1="356.70000000000005" y1="102.2" x2="356.70000000000005" y2="104.0" stroke="#222" stroke-width="0.6"/>
<line x1="291.6" y1="38.000000000000014" x2="294.0" y2="38.000000000000014" stroke="#222" stroke-width="0.6"/>
<text x="355.7" y="109.4" font-size="4.4" text-anchor="middle" class="t">10<tspan dy="-1.5" font-size="2.8">3</tspan></text>
<text x="291.4" y="39.7" font-size="4.6" text-anchor="end" class="t">10<tspan dy="-1.5" font-size="2.9">3</tspan></text>
<line x1="377.6" y1="102.2" x2="377.6" y2="104.0" stroke="#222" stroke-width="0.6"/>
<line x1="291.6" y1="16.60000000000001" x2="294.0" y2="16.60000000000001" stroke="#222" stroke-width="0.6"/>
<text x="376.6" y="109.4" font-size="4.4" text-anchor="middle" class="t">10<tspan dy="-1.5" font-size="2.8">4</tspan></text>
<text x="291.4" y="18.3" font-size="4.6" text-anchor="end" class="t">10<tspan dy="-1.5" font-size="2.9">4</tspan></text>
<text x="333.7" y="113.5" font-size="4.1" text-anchor="middle" textLength="32" lengthAdjust="spacingAndGlyphs" class="t">PE-Cy5 Log Comp</text>
<text transform="translate(283.1,59.6) rotate(-90)" font-size="4.7" text-anchor="middle" textLength="31.5" lengthAdjust="spacingAndGlyphs" class="t">APC Log Comp</text>
<text x="296.5" y="21.9" font-size="3.8" class="t">R3</text>
<text x="366.8" y="21.9" font-size="3.8" class="t">R4</text>
<text x="296.5" y="96.2" font-size="3.8" class="t">R5</text>
<text x="366.8" y="96.2" font-size="3.8" class="t">R6</text>
<text x="351.0" y="34.9" font-size="9.0" textLength="23.8" lengthAdjust="spacingAndGlyphs">1.38%</text>
<text x="326.5" y="14.3" font-size="9.1" textLength="16.2" lengthAdjust="spacingAndGlyphs">EBV</text>
<clipPath id="c39716"><rect x="416.90000000000003" y="16.6" width="64.09999999999997" height="85.4"/></clipPath>
<g clip-path="url(#c39716)">
<rect x="419.3" y="12.600000000000001" width="14.0" height="51.699999999999996" fill="#424242" filter="url(#b2)"/>
<path d="M414.9 56.3 L443.8 59.3 L446.1 66.3 L443.8 75.3 L438.3 83.3 L431.3 89.3 L425.8 91.8 L414.9 87.3Z" fill="#5e5e5e" filter="url(#b2)"/>
<path transform="scale(.25)" d="m1685 59h0m4 0h0m13 0h0m7 0h0m6 0h0m-33 1h0m11 0h0m1 0h0m5 0h0m1 0h0m5 0h0m-18 1h0m11 0h0m8 0h0m24 0h0m1 0h0m-47 1h0m26 0h0m2 0h0m10 0h0m9 0h0m-72 2h0m44 0h0m5 0h0m17 0h0m18 0h0m-48 1h0m11 0h0m10 0h0m20 0h0m-48 1h0m22 0h0m10 0h0m2 0h0m-55 1h0m22 0h0m1 0h0m5 0h0m3 0h0m4 0h0m2 0h0m18 0h0m-20 1h0m1 0h0m4 0h0m12 0h0m5 0h0m-38 1h0m2 0h0m9 0h0m6 0h0m17 0h0m9 0h0m1 0h0m-13 1h0m-39 1h0m21 0h0m12 0h0m9 0h0m-28 1h0m4 0h0m5 0h0m1 0h0m5 0h0m7 1h0m-20 1h0m4 0h0m5 0h0m10 0h0m3 0h0m14 0h0m6 0h0m-51 1h0m10 0h0m7 0h0m5 0h0m5 0h0m-34 1h0m13 0h0m18 0h0m-40 1h0m28 0h0m20 0h0m2 0h0m-44 1h0m25 0h0m20 0h0m1 0h0m3 0h0m-29 1h0m4 0h0m10 0h0m7 0h0m2 0h0m-19 1h0m2 0h0m14 0h0m-30 1h0m5 0h0m3 0h0m16 0h0m12 0h0m1 0h0m-42 1h0m21 0h0m4 0h0m12 0h0m-31 1h0m3 0h0m10 0h0m26 0h0m-51 1h0m4 0h0m22 0h0m1 0h0m6 0h0m19 0h0m-16 1h0m-27 1h0m4 0h0m2 0h0m11 0h0m1 0h0m2 0h0m-24 1h0m7 0h0m4 0h0m23 0h0m16 0h0m-62 1h0m29 0h0m5 0h0m13 0h0m8 0h0m-28 1h0m15 0h0m8 0h0m-40 1h0m11 0h0m18 0h0m4 0h0m1 0h0m9 0h0m-28 1h0m2 0h0m4 0h0m21 0h0m6 0h0m-29 1h0m8 0h0m1 0h0m1 0h0m2 0h0m14 0h0m-42 1h0m15 0h0m8 0h0m12 0h0m-30 1h0m9 0h0m2 0h0m1 0h0m13 0h0m5 0h0m2 0h0m5 0h0m-31 1h0m22 0h0m9 0h0m2 0h0m-38 1h0m16 0h0m-17 1h0m21 0h0m4 0h0m9 0h0m8 0h0m2 0h0m23 0h0m-39 1h0m4 0h0m-38 1h0m3 0h0m1 0h0m7 0h0m9 0h0m3 0h0m6 0h0m16 0h0m12 0h0m-42 1h0m3 0h0m9 0h0m1 0h0m1 0h0m8 0h0m7 0h0m9 0h0m5 0h0m-73 1h0m17 0h0m6 0h0m11 0h0m2 0h0m5 0h0m7 0h0m31 0h0m-68 1h0m16 0h0m4 0h0m1 0h0m2 0h0m1 0h0m7 0h0m9 0h0m21 0h0m-59 1h0m23 0h0m4 0h0m2 0h0m8 0h0m8 0h0m12 0h0m-46 1h0m33 0h0m-18 1h0m3 0h0m-29 1h0m7 0h0m18 0h0m4 0h0m28 0h0m-56 1h0m4 0h0m9 0h0m5 0h0m1 0h0m11 0h0m2 0h0m-36 1h0m7 0h0m5 0h0m12 0h0m8 0h0m10 0h0m22 0h0m-55 1h0m2 0h0m2 0h0m7 0h0m7 0h0m6 0h0m-2 1h0m2 0h0m33 0h0m-63 1h0m7 0h0m22 0h0m3 0h0m15 0h0m-46 1h0m16 0h0m5 0h0m5 0h0m13 0h0m6 0h0m-24 1h0m12 0h0m1 0h0m1 0h0m1 0h0m9 0h0m-30 1h0m13 0h0m5 0h0m15 0h0m-57 1h0m13 0h0m9 0h0m7 0h0m20 0h0m-41 1h0m10 0h0m5 0h0m1 0h0m16 0h0m3 0h0m-17 1h0m11 0h0m6 0h0m28 0h0m-65 1h0m23 0h0m12 0h0m2 0h0m1 0h0m10 0h0m-40 1h0m18 0h0m1 0h0m6 0h0m12 0h0m-30 1h0m12 0h0m29 0h0m2 0h0m-53 1h0m8 0h0m9 0h0m13 0h0m-19 1h0m27 0h0m-19 1h0m1 1h0m15 0h0m6 0h0m29 0h0m-66 1h0m2 0h0m17 0h0m16 0h0m1 0h0m-22 1h0m12 0h0m-20 1h0m5 0h0m2 0h0m3 0h0m32 0h0m-57 1h0m25 0h0m4 0h0m4 0h0m8 0h0m3 0h0m1 0h0m27 0h0m-54 1h0m5 0h0m3 0h0m1 0h0m3 0h0m7 0h0m2 0h0m6 0h0m1 0h0m-19 1h0m5 0h0m3 0h0m6 0h0m-43 1h0m9 0h0m17 0h0m15 0h0m7 0h0m-30 1h0m8 0h0m10 0h0m5 0h0m-38 1h0m21 0h0m7 0h0m5 0h0m13 0h0m-23 1h0m6 0h0m3 0h0m11 0h0m7 0h0m-46 1h0m5 0h0m13 0h0m1 0h0m3 0h0m5 0h0m13 0h0m7 0h0m2 0h0m-43 1h0m9 0h0m9 0h0m5 0h0m7 0h0m19 0h0m-49 1h0m10 0h0m12 0h0m15 0h0m6 0h0m-55 1h0m14 0h0m23 0h0m18 0h0m-45 1h0m21 0h0m6 0h0m3 0h0m8 0h0m4 0h0m-58 1h0m30 0h0m22 0h0m1 0h0m-30 1h0m16 0h0m28 0h0m-25 1h0m1 0h0m15 0h0m-41 1h0m4 0h0m34 0h0m4 0h0m-35 1h0m4 0h0m7 0h0m14 0h0m9 0h0m-29 1h0m9 0h0m3 0h0m3 0h0m10 0h0m7 0h0m-23 1h0m3 0h0m5 0h0m1 0h0m2 0h0m9 0h0m-36 1h0m7 0h0m1 0h0m5 0h0m15 0h0m-18 1h0m34 0h0m-46 1h0m1 0h0m7 0h0m-27 1h0m14 0h0m22 0h0m8 0h0m6 0h0m1 0h0m18 0h0m-67 1h0m12 0h0m12 0h0m-6 1h0m2 0h0m8 0h0m9 0h0m2 0h0m1 0h0m20 0h0m2 0h0m-56 1h0m14 1h0m12 0h0m-24 1h0m11 0h0m10 0h0m4 0h0m11 0h0m2 0h0m2 0h0m8 0h0m1 0h0m-41 1h0m20 0h0m-27 1h0m29 0h0m23 0h0m-47 1h0m19 0h0m12 0h0m1 0h0m9 0h0m4 0h0m-76 1h0m34 0h0m8 0h0m4 0h0m12 0h0m1 0h0m5 0h0m12 0h0m-44 1h0m5 0h0m20 0h0m8 0h0m10 0h0m-55 1h0m20 0h0m8 0h0m1 0h0m1 0h0m6 0h0m18 0h0m-59 1h0m24 0h0m7 0h0m3 0h0m5 0h0m-31 1h0m11 0h0m17 0h0m1 0h0m3 1h0m5 0h0m1 0h0m2 0h0m4 0h0m1 0h0m-38 1h0m7 0h0m10 0h0m28 0h0m-44 1h0m34 0h0m16 0h0m-51 1h0m47 0h0m-38 1h0m1 0h0m23 0h0m10 0h0m-38 1h0m1 0h0m1 0h0m5 0h0m3 0h0m2 0h0m1 0h0m1 0h0m12 0h0m1 0h0m-40 1h0m17 0h0m2 0h0m4 0h0m4 0h0m5 0h0m4 0h0m1 0h0m5 0h0m2 0h0m3 0h0m-31 1h0m3 0h0m7 0h0m2 0h0m2 0h0m4 0h0m3 0h0m9 0h0m1 0h0m5 0h0m3 0h0m-27 1h0m2 0h0m18 0h0m1 0h0m-33 1h0m12 0h0m-1 1h0m13 0h0m3 0h0m1 0h0m7 0h0m3 0h0m-37 1h0m21 0h0m16 0h0m19 0h0m-61 1h0m1 0h0m3 0h0m10 0h0m4 0h0m3 0h0m4 0h0m12 0h0m1 0h0m19 0h0m-55 1h0m3 0h0m7 0h0m5 0h0m4 0h0m-11 1h0m30 0h0m3 0h0m-61 1h0m14 0h0m25 0h0m1 0h0m3 0h0m7 0h0m-41 1h0m1 0h0m7 0h0m7 0h0m20 0h0m1 0h0m-36 1h0m5 0h0m9 0h0m4 0h0m5 0h0m5 0h0m1 0h0m2 0h0m12 0h0m6 0h0m-42 1h0m12 0h0m5 0h0m-40 1h0m18 0h0m27 0h0m2 0h0m5 0h0m4 0h0m-38 1h0m13 0h0m1 0h0m-16 1h0m3 0h0m11 0h0m7 0h0m3 0h0m5 0h0m9 0h0m2 0h0m1 0h0m5 0h0m-55 1h0m14 0h0m9 0h0m6 0h0m11 0h0m4 0h0m-27 1h0m14 0h0m8 0h0m12 0h0m2 0h0m-62 1h0m16 0h0m13 0h0m4 0h0m5 0h0m1 0h0m4 0h0m3 0h0m5 0h0m4 0h0m2 0h0m1 0h0m4 0h0m21 0h0m-47 1h0m20 0h0m13 0h0m5 0h0m4 0h0m-62 1h0m11 0h0m3 0h0m3 0h0m2 0h0m31 0h0m1 0h0m14 0h0m-55 1h0m2 0h0m15 0h0m4 0h0m4 0h0m7 0h0m5 0h0m-30 1h0m5 0h0m3 0h0m6 0h0m11 0h0m1 0h0m9 0h0m-51 1h0m9 0h0m8 0h0m2 0h0m5 0h0m7 0h0m2 0h0m10 0h0m4 0h0m-42 1h0m6 0h0m3 0h0m1 0h0m4 0h0m3 0h0m5 0h0m10 0h0m-43 1h0m25 0h0m8 0h0m5 0h0m18 0h0m-64 1h0m17 0h0m7 0h0m10 0h0m1 0h0m22 0h0m-37 1h0m10 0h0m3 0h0m9 0h0m2 0h0m14 0h0m-29 1h0m3 0h0m8 0h0m2 0h0m2 0h0m3 0h0m-31 1h0m8 0h0m1 0h0m1 0h0m2 0h0m2 0h0m13 0h0m1 0h0m16 0h0m-44 1h0m8 0h0m28 0h0m1 0h0m-31 1h0m4 0h0m1 0h0m3 0h0m4 0h0m5 0h0m5 0h0m3 0h0m11 0h0m1 0h0m-48 1h0m8 0h0m15 0h0m9 0h0m13 0h0m15 0h0m-35 1h0m3 0h0m1 0h0m16 0h0m6 0h0m-36 1h0m2 0h0m9 0h0m2 0h0m11 0h0m3 0h0m-53 1h0m44 0h0m-20 1h0m20 0h0m-16 1h0m17 0h0m5 0h0m13 0h0m3 0h0m-50 1h0m1 0h0m3 0h0m5 0h0m8 0h0m7 0h0m9 0h0m1 0h0m11 0h0m-39 1h0m1 0h0m11 0h0m35 0h0m1 0h0m-44 1h0m8 0h0m5 0h0m4 0h0m6 0h0m-30 1h0m20 0h0m2 0h0m4 0h0m3 0h0m9 0h0m1 0h0m-47 1h0m29 0h0m1 0h0m1 0h0m7 0h0m33 0h0m-52 1h0m4 0h0m2 0h0m1 0h0m-17 1h0m7 0h0m2 0h0m13 0h0m12 0h0m9 0h0m10 0h0m-58 1h0m23 0h0m5 1h0m17 0h0m2 0h0m2 0h0m-62 1h0m20 0h0m25 0h0m-33 1h0m20 0h0m10 0h0m6 0h0m-23 1h0m-2 1h0m20 0h0m4 0h0m1 0h0m1 0h0m1 0h0m11 0h0m-44 1h0m12 0h0m2 0h0m2 0h0m15 0h0m13 0h0m1 0h0m13 0h0m-48 1h0m2 0h0m1 0h0m5 0h0m2 0h0m1 0h0m-11 1h0m18 0h0m4 0h0m-10 1h0m7 0h0m4 0h0m2 0h0m-22 1h0m2 0h0m3 0h0m5 0h0m7 0h0m9 0h0m4 0h0m-33 1h0m1 0h0m6 0h0m26 0h0m5 0h0m-35 1h0m3 0h0m4 0h0m15 0h0m-46 1h0m20 0h0m10 0h0m7 0h0m5 0h0m-30 1h0m3 0h0m14 0h0m4 0h0m20 0h0m1 0h0m10 0h0m-51 1h0m11 0h0m3 0h0m5 0h0m1 0h0m3 0h0m2 0h0m1 0h0m9 0h0m5 0h0m2 0h0m-10 1h0m-25 1h0m19 0h0m9 0h0m-42 1h0m13 0h0m2 0h0m24 0h0m3 0h0m-38 1h0m3 0h0m15 0h0m13 0h0m5 0h0m-14 1h0m18 0h0m-12 1h0m8 0h0m2 0h0m2 0h0m7 0h0m-40 1h0m11 0h0m6 0h0m1 0h0m7 0h0m1 0h0m-22 1h0m4 0h0m5 0h0m11 0h0m17 0h0m-32 1h0m11 0h0m1 0h0m4 0h0m-26 1h0m5 0h0m2 0h0m9 0h0m1 0h0m1 0h0m1 0h0m7 0h0m2 0h0m-24 1h0m5 0h0m6 0h0m12 0h0m1 0h0m7 0h0m-34 1h0m2 0h0m4 0h0m2 0h0m4 0h0m7 0h0m15 0h0m4 0h0m-19 1h0m1 0h0m10 0h0m4 0h0m-32 1h0m1 0h0m8 0h0m4 0h0m9 0h0m2 0h0m1 0h0m5 0h0m-26 1h0m1 0h0m10 0h0m3 0h0m13 0h0m-38 1h0m2 0h0m10 0h0m17 0h0m1 0h0m9 0h0m4 0h0m1 0h0m-48 1h0m8 0h0m7 0h0m4 0h0m4 0h0m6 0h0m22 0h0m-66 1h0m27 0h0m4 0h0m13 0h0m5 0h0m-43 1h0m27 0h0m16 0h0m-50 1h0m6 0h0m38 0h0m9 0h0m9 0h0m-32 1h0m3 0h0m7 0h0m1 0h0m7 0h0m3 0h0m26 0h0m-63 1h0m14 0h0m5 0h0m1 0h0m1 0h0m1 0h0m2 0h0m3 0h0m4 0h0m4 0h0m6 0h0m-36 1h0m34 0h0m-20 1h0m1 0h0m8 0h0m4 0h0m3 0h0m-25 1h0m6 0h0m9 0h0m3 0h0m2 0h0m6 0h0m-5 1h0m12 0h0m-17 1h0m1 0h0" stroke="#1c1c1c" stroke-width="2.8" stroke-linecap="square" fill="none" opacity="1" filter="url(#b0)"/>
<path transform="scale(.25)" d="m1704 186h0m3 7h0m7 9h0m22 0h0m0 2h0m-48 1h0m10 1h0m-14 6h0m19 0h0m13 0h0m-65 2h0m34 0h0m-9 1h0m57 0h0m-6 1h0m1 1h0m0 3h0m4 1h0m3 3h0m-32 1h0m20 0h0m-55 1h0m31 0h0m23 0h0m21 0h0m15 0h0m12 0h0m-80 1h0m52 0h0m11 0h0m10 0h0m47 0h0m-109 1h0m12 0h0m2 0h0m21 0h0m20 0h0m-85 1h0m61 0h0m-26 1h0m18 0h0m45 0h0m15 0h0m-52 1h0m31 0h0m24 0h0m-44 1h0m3 0h0m1 0h0m22 0h0m-129 1h0m54 0h0m45 0h0m9 0h0m22 0h0m-66 1h0m3 0h0m1 0h0m-42 1h0m58 0h0m-61 1h0m17 0h0m10 0h0m45 0h0m7 0h0m-98 1h0m61 0h0m4 0h0m8 0h0m3 0h0m12 0h0m16 0h0m10 0h0m-118 2h0m66 0h0m23 0h0m8 0h0m9 0h0m2 0h0m5 0h0m-101 1h0m27 0h0m17 0h0m4 0h0m9 0h0m9 0h0m5 0h0m27 0h0m10 0h0m6 0h0m-102 1h0m35 0h0m17 0h0m14 0h0m-67 1h0m12 0h0m10 0h0m21 0h0m18 0h0m8 0h0m27 0h0m88 0h0m-176 1h0m7 0h0m5 0h0m39 0h0m1 0h0m9 0h0m29 0h0m-51 1h0m9 0h0m-29 1h0m61 0h0m40 0h0m-102 1h0m28 0h0m16 0h0m-70 1h0m28 0h0m13 0h0m24 0h0m6 0h0m12 0h0m3 0h0m29 0h0m29 0h0m-78 1h0m1 0h0m2 0h0m16 0h0m-58 1h0m21 0h0m19 0h0m1 0h0m24 0h0m-87 1h0m6 0h0m47 0h0m18 0h0m14 0h0m18 0h0m-75 1h0m13 0h0m2 0h0m16 0h0m2 0h0m18 0h0m30 0h0m-51 1h0m15 0h0m-2 1h0m2 0h0m-42 1h0m4 0h0m22 0h0m9 0h0m28 0h0m-99 1h0m29 0h0m5 0h0m8 0h0m35 0h0m4 0h0m13 0h0m24 0h0m-132 1h0m25 0h0m14 0h0m9 0h0m23 0h0m11 0h0m8 0h0m11 0h0m-52 1h0m6 0h0m1 0h0m17 0h0m19 0h0m31 0h0m29 0h0m-94 1h0m14 0h0m12 0h0m16 0h0m10 0h0m4 0h0m6 0h0m-79 1h0m10 0h0m8 0h0m19 0h0m5 0h0m16 0h0m12 0h0m22 0h0m-110 1h0m37 0h0m11 0h0m3 0h0m4 0h0m10 0h0m-47 1h0m35 0h0m7 0h0m20 0h0m2 0h0m7 0h0m39 0h0m-137 1h0m11 0h0m29 0h0m11 0h0m11 0h0m6 0h0m4 0h0m2 0h0m40 0h0m-95 1h0m9 0h0m32 0h0m28 0h0m7 0h0m9 0h0m6 0h0m-72 1h0m17 0h0m1 0h0m1 0h0m2 0h0m2 0h0m4 0h0m6 0h0m4 0h0m8 0h0m21 0h0m-80 1h0m27 0h0m13 0h0m2 0h0m4 0h0m10 0h0m24 0h0m4 0h0m6 0h0m-88 1h0m12 0h0m4 0h0m2 0h0m1 0h0m1 0h0m22 0h0m5 0h0m24 0h0m-87 1h0m26 0h0m15 0h0m4 0h0m4 0h0m13 0h0m7 0h0m13 0h0m10 0h0m19 0h0m-108 1h0m24 0h0m18 0h0m14 0h0m1 0h0m1 0h0m5 0h0m7 0h0m12 0h0m2 0h0m14 0h0m-77 1h0m19 0h0m2 0h0m4 0h0m12 0h0m3 0h0m2 0h0m8 0h0m9 0h0m8 0h0m-102 1h0m34 0h0m12 0h0m8 0h0m1 0h0m1 0h0m4 0h0m12 0h0m4 0h0m8 0h0m4 0h0m17 0h0m2 0h0m-66 1h0m6 0h0m3 0h0m10 0h0m26 0h0m4 0h0m18 0h0m7 0h0m2 0h0m10 0h0m-92 1h0m1 0h0m9 0h0m6 0h0m10 0h0m14 0h0m4 0h0m1 0h0m2 0h0m3 0h0m5 0h0m-64 1h0m7 0h0m13 0h0m18 0h0m4 0h0m3 0h0m3 0h0m9 0h0m25 0h0m19 0h0m-155 1h0m61 0h0m6 0h0m3 0h0m29 0h0m1 0h0m4 0h0m5 0h0m8 0h0m2 0h0m2 0h0m27 0h0m-107 1h0m37 0h0m1 0h0m4 0h0m6 0h0m7 0h0m2 0h0m1 0h0m1 0h0m8 0h0m1 0h0m4 0h0m2 0h0m18 0h0m29 0h0m-90 1h0m19 0h0m1 0h0m1 0h0m2 0h0m3 0h0m3 0h0m11 0h0m5 0h0m4 0h0m1 0h0m5 0h0m1 0h0m-94 1h0m33 0h0m3 0h0m8 0h0m9 0h0m1 0h0m1 0h0m8 0h0m4 0h0m9 0h0m8 0h0m8 0h0m20 0h0m-104 1h0m19 0h0m8 0h0m2 0h0m7 0h0m1 0h0m7 0h0m15 0h0m11 0h0m6 0h0m-67 1h0m21 0h0m12 0h0m1 0h0m17 0h0m1 0h0m7 0h0m1 0h0m13 0h0m8 0h0m10 0h0m-87 1h0m12 0h0m1 0h0m18 0h0m3 0h0m2 0h0m1 0h0m1 0h0m8 0h0m7 0h0m7 0h0m2 0h0m12 0h0m5 0h0m4 0h0m28 0h0m-108 1h0m5 0h0m5 0h0m2 0h0m3 0h0m1 0h0m1 0h0m14 0h0m3 0h0m4 0h0m15 0h0m2 0h0m7 0h0m7 0h0m17 0h0m-91 1h0m24 0h0m3 0h0m4 0h0m2 0h0m13 0h0m3 0h0m3 0h0m2 0h0m4 0h0m4 0h0m8 0h0m1 0h0m9 0h0m4 0h0m-81 1h0m21 0h0m11 0h0m2 0h0m2 0h0m11 0h0m10 0h0m2 0h0m6 0h0m3 0h0m3 0h0m12 0h0m-103 1h0m23 0h0m9 0h0m14 0h0m16 0h0m32 0h0m-113 1h0m38 0h0m9 0h0m1 0h0m11 0h0m2 0h0m9 0h0m10 0h0m3 0h0m11 0h0m2 0h0m4 0h0m4 0h0m5 0h0m4 0h0m6 0h0m15 0h0m-65 1h0m10 0h0m5 0h0m10 0h0m1 0h0m1 0h0m3 0h0m4 0h0m-53 1h0m12 0h0m7 0h0m1 0h0m4 0h0m5 0h0m4 0h0m4 0h0m3 0h0m7 0h0m6 0h0m21 0h0m-103 1h0m26 0h0m7 0h0m6 0h0m1 0h0m7 0h0m4 0h0m2 0h0m10 0h0m20 0h0m3 0h0m14 0h0m20 0h0m-104 1h0m10 0h0m7 0h0m5 0h0m18 0h0m3 0h0m3 0h0m26 0h0m5 0h0m3 0h0m-72 1h0m10 0h0m2 0h0m3 0h0m9 0h0m1 0h0m4 0h0m2 0h0m4 0h0m1 0h0m3 0h0m3 0h0m5 0h0m1 0h0m2 0h0m1 0h0m5 0h0m8 0h0m15 0h0m-102 1h0m13 0h0m3 0h0m6 0h0m1 0h0m12 0h0m21 0h0m1 0h0m1 0h0m1 0h0m1 0h0m10 0h0m4 0h0m4 0h0m2 0h0m5 0h0m-58 1h0m5 0h0m1 0h0m3 0h0m13 0h0m2 0h0m2 0h0m2 0h0m4 0h0m7 0h0m1 0h0m1 0h0m21 0h0m17 0h0m-93 1h0m16 0h0m5 0h0m11 0h0m5 0h0m10 0h0m9 0h0m9 0h0m-73 1h0m14 0h0m5 0h0m9 0h0m5 0h0m2 0h0m5 0h0m22 0h0m16 0h0m33 0h0m-98 1h0m12 0h0m9 0h0m1 0h0m7 0h0m4 0h0m4 0h0m3 0h0m1 0h0m3 0h0m2 0h0m1 0h0m7 0h0m-49 1h0m1 0h0m6 0h0m9 0h0m4 0h0m6 0h0m14 0h0m11 0h0m23 0h0m-63 1h0m9 0h0m12 0h0m9 0h0m6 0h0m6 0h0m3 0h0m3 0h0m-71 1h0m1 0h0m3 0h0m14 0h0m11 0h0m1 0h0m5 0h0m8 0h0m7 0h0m3 0h0m33 0h0m-100 1h0m3 0h0m9 0h0m9 0h0m16 0h0m21 0h0m5 0h0m9 0h0m7 0h0m-51 1h0m4 0h0m9 0h0m6 0h0m16 0h0m1 0h0m2 0h0m2 0h0m-39 1h0m2 0h0m9 0h0m16 0h0m4 0h0m2 0h0m3 0h0m1 0h0m7 0h0m4 0h0m3 0h0m12 0h0m15 0h0m15 0h0m-107 1h0m11 0h0m10 0h0m28 0h0m13 0h0m5 0h0m-71 1h0m22 0h0m1 0h0m10 0h0m4 0h0m6 0h0m6 0h0m1 0h0m12 0h0m1 0h0m1 0h0m24 0h0m-84 1h0m5 0h0m23 0h0m4 0h0m7 0h0m7 0h0m10 0h0m2 0h0m-83 1h0m49 0h0m6 0h0m8 0h0m3 0h0m3 0h0m2 0h0m22 0h0m20 0h0m-69 1h0m12 0h0m2 0h0m10 0h0m2 0h0m6 0h0m15 0h0m14 0h0m-95 1h0m17 0h0m6 0h0m5 0h0m4 0h0m10 0h0m3 0h0m10 0h0m11 0h0m14 0h0m14 0h0m-89 1h0m1 0h0m28 0h0m4 0h0m13 0h0m5 0h0m10 0h0m4 0h0m1 0h0m12 0h0m14 0h0m20 0h0m-91 1h0m1 0h0m13 0h0m4 0h0m3 0h0m2 0h0m3 0h0m2 0h0m1 0h0m4 0h0m6 0h0m3 0h0m28 0h0m-89 1h0m10 0h0m2 0h0m17 0h0m3 0h0m5 0h0m41 0h0m-69 1h0m1 0h0m4 0h0m4 0h0m5 0h0m2 0h0m6 0h0m3 0h0m5 0h0m4 0h0m11 0h0m1 0h0m-47 1h0m11 0h0m12 0h0m6 0h0m18 0h0m15 0h0m-64 1h0m9 0h0m20 0h0m6 0h0m3 0h0m2 0h0m1 0h0m6 0h0m1 0h0m-34 1h0m20 0h0m4 0h0m20 0h0m-44 1h0m14 0h0m5 0h0m11 0h0m16 0h0m1 0h0m-41 1h0m2 0h0m5 0h0m3 0h0m12 0h0m11 0h0m-27 1h0m2 0h0m3 0h0m9 0h0m6 0h0m10 0h0m6 0h0m14 0h0m7 0h0m-69 1h0m2 0h0m13 0h0m2 0h0m9 0h0m3 0h0m14 0h0m-69 1h0m34 0h0m19 0h0m4 0h0m4 0h0m2 0h0m8 0h0m5 0h0m4 0h0m15 0h0m-82 1h0m4 0h0m5 0h0m17 0h0m4 0h0m7 0h0m10 0h0m14 0h0m6 0h0m-63 1h0m39 0h0m2 0h0m11 0h0m5 0h0m-64 1h0m20 0h0m10 0h0m20 0h0m1 0h0m4 0h0m9 0h0m-48 1h0m13 0h0m1 0h0m1 0h0m2 0h0m15 0h0m18 0h0m4 0h0m-74 1h0m23 0h0m2 0h0m15 0h0m6 0h0m17 0h0m14 0h0m-66 1h0m20 0h0m7 0h0m10 0h0m-26 1h0m4 0h0m23 0h0m15 0h0m14 0h0m-43 1h0m18 0h0m-16 1h0m13 0h0m8 0h0m1 0h0m12 0h0m3 0h0m1 0h0m-45 1h0m9 0h0m16 0h0m1 0h0m4 0h0m-23 1h0m9 0h0m9 0h0m-23 1h0m3 0h0m2 0h0m4 0h0m4 0h0m5 0h0m5 0h0m3 0h0m36 0h0m-85 1h0m43 0h0m-27 1h0m2 0h0m10 0h0m3 0h0m4 0h0m1 0h0m-18 1h0m13 0h0m15 0h0m13 0h0m-51 1h0m1 0h0m4 0h0m17 0h0m2 0h0m6 0h0m27 0h0m-73 1h0m46 0h0m11 0h0m-26 1h0m11 0h0m30 0h0m-65 2h0m13 0h0m9 0h0m12 0h0m-15 1h0m21 0h0m0 1h0m-15 1h0m7 0h0m-18 1h0m22 0h0m-5 1h0m14 0h0m2 0h0m-2 1h0m8 0h0m3 0h0m-39 1h0m12 0h0m23 0h0m-26 3h0m-9 1h0m18 0h0m6 0h0m-34 1h0m10 0h0m1 0h0m4 0h0m3 1h0m15 0h0m-21 1h0m23 0h0m-50 1h0m37 0h0m10 0h0m-23 2h0m26 1h0m-19 1h0m20 0h0m10 0h0m-26 2h0m-9 2h0m27 0h0m-52 1h0m12 0h0m36 1h0m-23 1h0m24 4h0m-1 2h0m-11 2h0m-9 1h0m16 0h0m-3 1h0m3 2h0m-22 5h0m-11 9h0m38 5h0m-15 1h0m-25 8h0" stroke="#1c1c1c" stroke-width="2.8" stroke-linecap="square" fill="none" opacity="1" filter="url(#b0)"/>
<path transform="scale(.25)" d="m1772 224h0m-2 3h0m-22 1h0m20 0h0m-7 1h0m7 3h0m6 2h0m4 1h0m-7 1h0m6 0h0m3 1h0m-1 1h0m-25 1h0m6 0h0m3 0h0m18 0h0m11 0h0m-21 1h0m1 1h0m7 0h0m3 1h0m-20 1h0m-2 1h0m14 0h0m1 0h0m-13 1h0m6 0h0m4 0h0m19 0h0m-15 1h0m2 0h0m11 1h0m-16 1h0m-18 1h0m18 0h0m4 0h0m5 0h0m-20 1h0m4 0h0m11 0h0m1 0h0m-3 1h0m-1 1h0m1 0h0m-9 1h0m4 0h0m6 0h0m10 0h0m-31 1h0m5 0h0m18 0h0m9 0h0m-20 1h0m17 0h0m-17 1h0m2 0h0m7 0h0m-10 1h0m2 0h0m4 0h0m6 0h0m6 0h0m-26 1h0m16 0h0m5 0h0m6 0h0m-21 1h0m7 0h0m3 0h0m4 0h0m11 0h0m-27 1h0m6 0h0m5 0h0m11 0h0m-26 1h0m5 0h0m4 0h0m5 0h0m3 0h0m4 0h0m3 0h0m-21 1h0m1 0h0m1 0h0m20 0h0m-24 1h0m5 0h0m3 0h0m3 0h0m2 0h0m-3 1h0m13 0h0m-15 1h0m9 0h0m8 1h0m-6 1h0m-10 1h0m6 0h0m17 0h0m-21 1h0m7 0h0m1 0h0m-18 1h0m9 0h0m27 0h0m-34 1h0m1 0h0m6 0h0m6 0h0m5 0h0m3 1h0m-16 1h0m1 0h0m4 0h0m8 0h0m-25 1h0m6 0h0m5 0h0m12 0h0m-8 1h0m7 1h0m7 0h0m-19 2h0m4 2h0m-11 1h0m18 0h0m11 0h0m-5 1h0m-21 1h0m6 0h0m4 0h0m-12 1h0m9 0h0m5 0h0m-4 1h0m10 0h0m1 1h0m0 3h0m-23 1h0m27 0h0m-18 1h0m3 1h0m2 0h0m-6 3h0m4 5h0m11 1h0" stroke="#1c1c1c" stroke-width="2.8" stroke-linecap="square" fill="none" opacity="1" filter="url(#b0)"/>
<path transform="scale(.25)" d="m1723 345h0m14 0h0m-50 2h0m31 0h0m-28 1h0m30 0h0m14 0h0m-58 1h0m30 0h0m8 0h0m1 0h0m8 0h0m12 0h0m-47 1h0m6 0h0m9 0h0m10 0h0m5 0h0m21 0h0m-31 1h0m1 0h0m9 0h0m-37 1h0m9 0h0m12 0h0m9 0h0m11 0h0m21 0h0m-47 1h0m14 0h0m5 0h0m-5 1h0m22 0h0m2 0h0m8 0h0m-24 1h0m-35 1h0m37 0h0m2 0h0m5 0h0m8 1h0m-46 1h0m28 0h0m-48 1h0m45 0h0m4 0h0m9 0h0m10 0h0m-33 1h0m24 0h0m-29 1h0m10 0h0m4 0h0m37 0h0m-57 1h0m14 0h0m-16 1h0m11 0h0m9 0h0m2 0h0m9 0h0m2 0h0m11 0h0m-5 2h0m-17 1h0m-14 1h0m31 1h0m3 0h0m-31 1h0m6 0h0m16 0h0m13 0h0m34 0h0m-61 1h0m9 0h0m-30 1h0m22 0h0m33 0h0m-47 1h0m38 0h0m-26 1h0m16 0h0m5 0h0m-44 1h0m18 0h0m-21 1h0m13 0h0m30 1h0m-11 1h0m-13 1h0m-5 1h0m18 0h0m-29 1h0m29 0h0m-29 2h0m1 1h0m56 0h0m-34 1h0m4 1h0m1 0h0m-7 2h0m-14 1h0m25 0h0m-8 1h0m9 0h0m-2 1h0m4 0h0m-9 1h0m-6 1h0m23 0h0m-28 3h0m31 1h0m-21 4h0m-2 7h0m-2 1h0m13 5h0m13 26h0" stroke="#333" stroke-width="2.8" stroke-linecap="square" fill="none" opacity="1" filter="url(#b0)"/>
<radialGradient id="g39716"><stop offset="0" stop-color="#cfcfcf" stop-opacity="0.92"/><stop offset="0.3" stop-color="#b0b0b0" stop-opacity="0.82"/><stop offset="0.62" stop-color="#868686" stop-opacity="0.55"/><stop offset="1" stop-color="#505050" stop-opacity="0"/></radialGradient>
<ellipse cx="432.3" cy="70.3" rx="8.6" ry="10" fill="url(#g39716)" transform="rotate(-20 432.3 70.3)" opacity=".9"/>
</g>
<rect x="397.5" y="16.5" width="84.0" height="86.0" fill="none" stroke="#505050" stroke-width="1"/>
<line x1="415.5" y1="16.6" x2="415.5" y2="102.0" stroke="#505050" stroke-width="1"/>
<line x1="397.2" y1="58.5" x2="481.0" y2="58.5" stroke="#505050" stroke-width="1"/>
<rect x="414.70" y="57.40" width="1.80" height="1.80" fill="#000"/>
<line x1="397.2" y1="102.0" x2="397.2" y2="103.8" stroke="#222" stroke-width="0.6"/>
<line x1="394.8" y1="102.0" x2="397.2" y2="102.0" stroke="#222" stroke-width="0.6"/>
<text x="396.2" y="109.2" font-size="4.4" text-anchor="middle" class="t">10<tspan dy="-1.5" font-size="2.8">0</tspan></text>
<text x="394.6" y="103.7" font-size="4.6" text-anchor="end" class="t">10<tspan dy="-1.5" font-size="2.9">0</tspan></text>
<line x1="418.15" y1="102.0" x2="418.15" y2="103.8" stroke="#222" stroke-width="0.6"/>
<line x1="394.8" y1="80.65" x2="397.2" y2="80.65" stroke="#222" stroke-width="0.6"/>
<text x="417.1" y="109.2" font-size="4.4" text-anchor="middle" class="t">10<tspan dy="-1.5" font-size="2.8">1</tspan></text>
<text x="394.6" y="82.4" font-size="4.6" text-anchor="end" class="t">10<tspan dy="-1.5" font-size="2.9">1</tspan></text>
<line x1="439.1" y1="102.0" x2="439.1" y2="103.8" stroke="#222" stroke-width="0.6"/>
<line x1="394.8" y1="59.3" x2="397.2" y2="59.3" stroke="#222" stroke-width="0.6"/>
<text x="438.1" y="109.2" font-size="4.4" text-anchor="middle" class="t">10<tspan dy="-1.5" font-size="2.8">2</tspan></text>
<text x="394.6" y="61.0" font-size="4.6" text-anchor="end" class="t">10<tspan dy="-1.5" font-size="2.9">2</tspan></text>
<line x1="460.05" y1="102.0" x2="460.05" y2="103.8" stroke="#222" stroke-width="0.6"/>
<line x1="394.8" y1="37.94999999999999" x2="397.2" y2="37.94999999999999" stroke="#222" stroke-width="0.6"/>
<text x="459.1" y="109.2" font-size="4.4" text-anchor="middle" class="t">10<tspan dy="-1.5" font-size="2.8">3</tspan></text>
<text x="394.6" y="39.6" font-size="4.6" text-anchor="end" class="t">10<tspan dy="-1.5" font-size="2.9">3</tspan></text>
<line x1="481.0" y1="102.0" x2="481.0" y2="103.8" stroke="#222" stroke-width="0.6"/>
<line x1="394.8" y1="16.599999999999994" x2="397.2" y2="16.599999999999994" stroke="#222" stroke-width="0.6"/>
<text x="480.0" y="109.2" font-size="4.4" text-anchor="middle" class="t">10<tspan dy="-1.5" font-size="2.8">4</tspan></text>
<text x="394.6" y="18.3" font-size="4.6" text-anchor="end" class="t">10<tspan dy="-1.5" font-size="2.9">4</tspan></text>
<text x="437.0" y="113.3" font-size="4.1" text-anchor="middle" textLength="32" lengthAdjust="spacingAndGlyphs" class="t">PE-Cy5 Log Comp</text>
<text transform="translate(386.3,59.5) rotate(-90)" font-size="4.7" text-anchor="middle" textLength="31.5" lengthAdjust="spacingAndGlyphs" class="t">APC Log Comp</text>
<text x="399.7" y="21.9" font-size="3.8" class="t">R3</text>
<text x="470.2" y="21.9" font-size="3.8" class="t">R4</text>
<text x="399.7" y="96.0" font-size="3.8" class="t">R5</text>
<text x="470.2" y="96.0" font-size="3.8" class="t">R6</text>
<text x="448.5" y="33.8" font-size="9.0" textLength="28.8" lengthAdjust="spacingAndGlyphs">22.85%</text>
<text x="431.6" y="14.5" font-size="9.1" textLength="18.8" lengthAdjust="spacingAndGlyphs">CMV</text>
<clipPath id="c294120"><rect x="314.8" y="120.6" width="64.0" height="85.0"/></clipPath>
<g clip-path="url(#c294120)">
<rect x="316.6" y="166.2" width="23.6" height="31" rx="9" ry="10" fill="#505050" filter="url(#b1)"/>
<ellipse cx="325.3" cy="158.2" rx="4.6" ry="14" fill="#999" opacity=".5" filter="url(#b2)"/>
<path transform="scale(.25)" d="m1321 633h0m10 5h0m-13 2h0m17 4h0m-49 6h0m14 1h0m14 0h0m-5 1h0m-46 2h0m41 0h0m12 0h0m17 1h0m14 0h0m-43 2h0m46 0h0m-51 1h0m1 0h0m5 0h0m24 0h0m-24 2h0m-25 1h0m2 0h0m51 1h0m-44 1h0m10 0h0m8 0h0m-25 2h0m35 0h0m3 0h0m-11 2h0m3 0h0m19 0h0m24 0h0m1 0h0m-57 1h0m20 0h0m26 0h0m-66 1h0m13 0h0m30 0h0m-18 1h0m3 0h0m13 0h0m4 0h0m13 0h0m-15 1h0m3 0h0m-9 1h0m-7 1h0m-14 1h0m6 0h0m5 0h0m56 0h0m-70 1h0m11 0h0m5 0h0m3 0h0m25 0h0m-36 1h0m9 0h0m26 0h0m12 0h0m-74 1h0m33 0h0m4 0h0m44 0h0m7 0h0m-45 1h0m9 0h0m10 0h0m4 0h0m9 0h0m-51 1h0m61 0h0m-64 1h0m8 0h0m8 0h0m-15 1h0m1 0h0m47 0h0m-60 1h0m22 0h0m-19 1h0m18 0h0m5 0h0m15 0h0m2 0h0m-41 1h0m8 0h0m3 0h0m20 0h0m29 0h0m-61 1h0m32 0h0m4 0h0m6 0h0m18 0h0m1 0h0m3 1h0m-57 1h0m13 0h0m10 0h0m50 0h0m-61 1h0m2 0h0m4 0h0m5 0h0m4 0h0m5 0h0m9 0h0m1 0h0m6 0h0m11 0h0m-61 1h0m43 0h0m9 0h0m-48 1h0m25 0h0m2 0h0m6 0h0m9 0h0m6 0h0m7 0h0m-84 1h0m32 0h0m10 0h0m7 0h0m20 0h0m22 0h0m-52 1h0m22 0h0m16 0h0m-55 1h0m7 0h0m3 0h0m3 0h0m4 0h0m39 0h0m-67 1h0m13 0h0m1 0h0m25 0h0m4 0h0m2 0h0m5 0h0m2 0h0m25 0h0m-76 1h0m31 0h0m27 0h0m8 0h0m-44 1h0m6 0h0m3 0h0m11 0h0m-16 1h0m32 0h0m5 0h0m-35 1h0m1 0h0m2 0h0m5 0h0m2 0h0m2 0h0m3 0h0m8 0h0m10 0h0m-46 1h0m3 0h0m1 0h0m14 0h0m10 0h0m1 0h0m9 0h0m11 0h0m-60 1h0m16 0h0m27 0h0m3 0h0m9 0h0m2 0h0m-29 1h0m26 0h0m4 0h0m9 0h0m-67 1h0m8 0h0m8 0h0m1 0h0m10 0h0m4 0h0m16 0h0m5 0h0m37 0h0m-95 1h0m14 0h0m12 0h0m4 0h0m4 0h0m5 0h0m3 0h0m4 0h0m8 0h0m12 0h0m5 0h0m5 0h0m7 0h0m-70 1h0m7 0h0m7 0h0m3 0h0m8 0h0m11 0h0m28 0h0m-78 1h0m24 0h0m3 0h0m13 0h0m4 0h0m2 0h0m2 0h0m9 0h0m11 0h0m2 0h0m-84 1h0m55 0h0m7 0h0m13 0h0m-82 1h0m28 0h0m4 0h0m8 0h0m5 0h0m3 0h0m4 0h0m1 0h0m14 0h0m11 0h0m18 0h0m-69 1h0m10 0h0m2 0h0m16 0h0m20 0h0m12 0h0m16 0h0m-91 1h0m23 0h0m6 0h0m14 0h0m1 0h0m6 0h0m10 0h0m17 0h0m1 0h0m-53 1h0m11 0h0m2 0h0m1 0h0m7 0h0m12 0h0m42 0h0m-86 1h0m16 0h0m7 0h0m3 0h0m9 0h0m1 0h0m7 0h0m15 0h0m21 0h0m17 0h0m-78 1h0m23 0h0m3 0h0m1 0h0m12 0h0m-56 1h0m11 0h0m11 0h0m1 0h0m4 0h0m4 0h0m6 0h0m2 0h0m8 0h0m15 0h0m-54 1h0m1 0h0m5 0h0m13 0h0m10 0h0m2 0h0m4 0h0m1 0h0m1 0h0m7 0h0m6 0h0m-46 1h0m7 0h0m11 0h0m7 0h0m8 0h0m10 0h0m8 0h0m7 0h0m-76 1h0m34 0h0m2 0h0m1 0h0m3 0h0m6 0h0m6 0h0m15 0h0m-85 1h0m12 0h0m6 0h0m23 0h0m3 0h0m1 0h0m1 0h0m2 0h0m13 0h0m1 0h0m23 0h0m5 0h0m19 0h0m-96 1h0m37 0h0m3 0h0m1 0h0m10 0h0m4 0h0m4 0h0m16 0h0m-54 1h0m2 0h0m12 0h0m3 0h0m9 0h0m14 0h0m10 0h0m15 0h0m-89 1h0m12 0h0m13 0h0m2 0h0m5 0h0m5 0h0m1 0h0m5 0h0m1 0h0m21 0h0m17 0h0m4 0h0m2 0h0m1 0h0m-77 1h0m3 0h0m1 0h0m1 0h0m7 0h0m1 0h0m8 0h0m4 0h0m4 0h0m3 0h0m9 0h0m2 0h0m10 0h0m5 0h0m6 0h0m-56 1h0m5 0h0m3 0h0m4 0h0m4 0h0m6 0h0m2 0h0m3 0h0m2 0h0m12 0h0m2 0h0m10 0h0m7 0h0m-86 1h0m10 0h0m16 0h0m10 0h0m12 0h0m18 0h0m3 0h0m4 0h0m4 0h0m-58 1h0m9 0h0m12 0h0m8 0h0m7 0h0m18 0h0m1 0h0m1 0h0m9 0h0m3 0h0m-84 1h0m12 0h0m1 0h0m21 0h0m12 0h0m14 0h0m23 0h0m3 0h0m7 0h0m-68 1h0m1 0h0m3 0h0m28 0h0m4 0h0m1 0h0m28 0h0m12 0h0m-88 1h0m31 0h0m10 0h0m2 0h0m10 0h0m-78 1h0m21 0h0m27 0h0m6 0h0m4 0h0m9 0h0m31 0h0m15 0h0m19 0h0m-114 1h0m17 0h0m18 0h0m10 0h0m9 0h0m4 0h0m19 0h0m3 0h0m18 0h0m-86 1h0m9 0h0m10 0h0m6 0h0m5 0h0m5 0h0m10 0h0m8 0h0m7 0h0m1 0h0m-80 1h0m42 0h0m12 0h0m1 0h0m1 0h0m6 0h0m3 0h0m1 0h0m3 0h0m3 0h0m2 0h0m8 0h0m-47 1h0m8 0h0m4 0h0m8 0h0m1 0h0m26 0h0m10 0h0m-69 1h0m3 0h0m5 0h0m1 0h0m2 0h0m4 0h0m5 0h0m2 0h0m4 0h0m1 0h0m4 0h0m3 0h0m1 0h0m1 0h0m8 0h0m9 0h0m3 0h0m-38 1h0m1 0h0m7 0h0m3 0h0m1 0h0m8 0h0m5 0h0m4 0h0m28 0h0m15 0h0m-101 1h0m25 0h0m3 0h0m8 0h0m1 0h0m16 0h0m7 0h0m9 0h0m6 0h0m-84 1h0m8 0h0m10 0h0m20 0h0m9 0h0m9 0h0m4 0h0m5 0h0m5 0h0m1 0h0m3 0h0m12 0h0m2 0h0m18 0h0m-104 1h0m19 0h0m1 0h0m6 0h0m3 0h0m4 0h0m3 0h0m1 0h0m15 0h0m5 0h0m3 0h0m5 0h0m7 0h0m5 0h0m22 0h0m-59 1h0m13 0h0m5 0h0m25 0h0m-55 1h0m7 0h0m3 0h0m5 0h0m4 0h0m4 0h0m31 0h0m20 0h0m-97 1h0m11 0h0m1 0h0m3 0h0m2 0h0m3 0h0m22 0h0m3 0h0m1 0h0m4 0h0m3 0h0m2 0h0m8 0h0m11 0h0m3 0h0m12 0h0m-118 1h0m15 0h0m11 0h0m15 0h0m7 0h0m24 0h0m8 0h0m3 0h0m1 0h0m-55 1h0m3 0h0m1 0h0m6 0h0m2 0h0m12 0h0m11 0h0m7 0h0m14 0h0m17 0h0m-36 1h0m4 0h0m16 0h0m10 0h0m4 0h0m24 0h0m-74 1h0m21 0h0m7 0h0m1 0h0m1 0h0m-45 1h0m30 0h0m11 0h0m6 0h0m7 0h0m1 0h0m16 0h0m11 0h0m16 0h0m-107 1h0m4 0h0m30 0h0m10 0h0m21 0h0m-32 1h0m3 0h0m8 0h0m4 0h0m5 0h0m10 0h0m3 0h0m20 0h0m-83 1h0m14 0h0m1 0h0m10 0h0m7 0h0m4 0h0m11 0h0m9 0h0m10 0h0m5 0h0m24 0h0m-118 1h0m45 0h0m10 0h0m11 0h0m8 0h0m1 0h0m17 0h0m7 0h0m2 0h0m-57 1h0m4 0h0m11 0h0m1 0h0m12 0h0m19 0h0m-61 1h0m15 0h0m12 0h0m1 0h0m7 0h0m23 0h0m-45 1h0m2 0h0m1 0h0m1 0h0m20 0h0m2 0h0m1 0h0m15 0h0m4 0h0m8 0h0m11 0h0m-84 1h0m9 0h0m5 0h0m11 0h0m8 0h0m17 0h0m-60 1h0m9 0h0m5 0h0m12 0h0m14 0h0m2 0h0m4 0h0m1 0h0m1 0h0m7 0h0m3 0h0m-42 1h0m7 0h0m21 0h0m3 0h0m16 0h0m1 0h0m-53 1h0m38 0h0m3 0h0m2 0h0m6 0h0m6 0h0m2 0h0m3 0h0m-51 1h0m15 0h0m3 0h0m11 0h0m5 0h0m8 0h0m2 0h0m-92 1h0m55 0h0m9 0h0m11 0h0m19 0h0m2 0h0m-39 1h0m2 0h0m1 0h0m8 0h0m3 0h0m9 0h0m1 0h0m-17 1h0m3 0h0m4 0h0m7 0h0m3 0h0m5 0h0m22 0h0m-42 1h0m2 0h0m9 0h0m2 0h0m12 0h0m-30 1h0m5 0h0m6 0h0m9 0h0m3 0h0m24 0h0m-76 1h0m16 0h0m20 0h0m4 0h0m5 0h0m12 0h0m-38 1h0m7 0h0m27 0h0m5 0h0m2 0h0m10 0h0m5 0h0m-65 1h0m1 0h0m8 0h0m11 0h0m6 0h0m18 0h0m2 0h0m13 0h0m-63 1h0m30 0h0m1 0h0m6 0h0m10 0h0m-16 1h0m7 0h0m3 0h0m4 0h0m4 0h0m8 0h0m2 0h0m3 0h0m-41 1h0m26 0h0m5 0h0m14 0h0m14 0h0m-74 1h0m60 0h0m19 0h0m-79 1h0m19 0h0m4 0h0m-6 1h0m9 0h0m44 0h0m-57 1h0m20 0h0m30 0h0m40 0h0m-99 1h0m3 0h0m29 0h0m6 0h0m14 0h0m-39 1h0m16 0h0m23 0h0m2 0h0m10 0h0m12 0h0m-57 1h0m15 0h0m-25 1h0m8 0h0m7 0h0m2 0h0m4 0h0m12 0h0m12 0h0m-69 1h0m22 0h0m20 0h0m14 0h0m32 0h0m-67 1h0m35 0h0m40 0h0m-49 1h0m44 0h0m-39 1h0m9 0h0m3 0h0m18 1h0m-64 2h0m7 0h0m27 1h0m9 0h0m10 0h0m-73 1h0m17 1h0m1 0h0m44 0h0m-29 1h0m7 0h0m5 0h0m12 0h0m5 0h0m-10 1h0m15 0h0m-47 1h0m12 0h0m5 0h0m5 0h0m-11 1h0m13 0h0m-31 1h0m20 1h0m19 1h0m-25 1h0m16 0h0m11 0h0m11 0h0m-31 1h0m10 0h0m18 0h0m-16 1h0m8 0h0m6 0h0m-36 1h0m45 0h0m-15 1h0m-2 3h0m-17 1h0m43 0h0m-42 1h0m19 0h0m16 0h0m25 0h0m-71 1h0m17 1h0m-7 1h0m2 2h0m6 0h0m3 3h0m11 1h0m-25 2h0m8 1h0m24 0h0m-59 1h0m63 1h0m-49 4h0m10 6h0" stroke="#1a1a1a" stroke-width="2.8" stroke-linecap="square" fill="none" opacity="1" filter="url(#b0)"/>
<path transform="scale(.25)" d="m1334 654h0m-59 2h0m62 4h0m-43 1h0m45 0h0m3 0h0m-52 1h0m3 0h0m-20 2h0m9 0h0m1 0h0m16 0h0m51 0h0m-75 1h0m23 0h0m15 0h0m-20 1h0m14 0h0m-2 2h0m24 0h0m25 0h0m-82 1h0m60 0h0m-30 1h0m38 0h0m13 0h0m4 0h0m-83 1h0m9 0h0m18 0h0m11 0h0m3 0h0m29 0h0m-58 1h0m-11 1h0m3 0h0m65 0h0m2 0h0m1 0h0m-79 1h0m5 0h0m29 0h0m22 0h0m-12 1h0m14 0h0m7 0h0m3 0h0m11 0h0m14 0h0m-81 1h0m6 0h0m15 0h0m19 0h0m13 0h0m17 0h0m-75 1h0m46 0h0m2 0h0m-51 1h0m30 0h0m17 0h0m3 0h0m10 0h0m-50 1h0m6 0h0m9 0h0m22 0h0m6 0h0m16 0h0m5 0h0m-27 1h0m14 0h0m8 0h0m1 0h0m5 0h0m1 0h0m-49 1h0m14 0h0m10 0h0m1 0h0m9 0h0m-52 1h0m3 0h0m10 0h0m40 0h0m2 0h0m2 0h0m6 0h0m11 0h0m-81 1h0m22 0h0m12 0h0m4 0h0m40 0h0m-76 1h0m6 0h0m5 0h0m2 0h0m26 0h0m2 0h0m8 0h0m36 0h0m-79 1h0m2 0h0m35 0h0m16 0h0m22 0h0m-82 1h0m12 0h0m9 0h0m46 0h0m19 0h0m-66 1h0m3 0h0m5 0h0m6 0h0m14 0h0m-42 1h0m59 0h0m11 0h0m1 0h0m-82 1h0m18 0h0m6 0h0m6 0h0m2 0h0m36 0h0m-71 1h0m16 0h0m9 0h0m5 0h0m21 0h0m14 0h0m11 0h0m-58 1h0m16 0h0m6 0h0m3 0h0m7 0h0m-45 1h0m10 0h0m29 0h0m4 0h0m2 0h0m33 0h0m-72 1h0m2 0h0m23 0h0m14 0h0m22 0h0m-41 1h0m39 0h0m7 0h0m-73 1h0m3 1h0m19 0h0m7 0h0m5 0h0m29 0h0m23 0h0m-73 1h0m15 0h0m5 0h0m3 0h0m45 0h0m10 0h0m-71 1h0m20 0h0m11 0h0m16 0h0m12 0h0m3 0h0m6 0h0m-66 1h0m4 0h0m14 0h0m44 0h0m1 0h0m-83 1h0m8 0h0m7 0h0m18 0h0m1 0h0m2 0h0m19 0h0m1 0h0m18 0h0m2 0h0m8 0h0m1 0h0m-62 1h0m7 0h0m28 0h0m1 0h0m13 0h0m7 0h0m9 0h0m-90 1h0m12 0h0m24 0h0m1 0h0m13 0h0m17 0h0m-44 1h0m15 0h0m25 0h0m9 0h0m-69 1h0m7 0h0m27 0h0m31 0h0m-41 1h0m5 0h0m13 0h0m15 0h0m16 0h0m-69 1h0m1 0h0m18 0h0m31 0h0m20 0h0m-67 1h0m22 0h0m30 0h0m11 0h0m3 0h0m11 0h0m-90 1h0m11 0h0m11 0h0m1 0h0m4 0h0m9 0h0m10 0h0m12 0h0m3 0h0m-54 1h0m75 0h0m-80 1h0m21 0h0m23 0h0m8 0h0m-26 1h0m2 0h0m7 0h0m14 0h0m34 0h0m1 0h0m-77 1h0m16 0h0m17 0h0m1 0h0m1 0h0m-32 1h0m10 0h0m5 0h0m31 0h0m-41 1h0m8 0h0m2 0h0m6 0h0m19 0h0m23 0h0m-41 1h0m10 0h0m1 0h0m35 0h0m-71 1h0m6 0h0m12 0h0m36 0h0m14 0h0m-2 1h0m-63 1h0m18 0h0m13 0h0m12 0h0m6 0h0m-47 1h0m20 0h0m11 0h0m28 0h0m2 0h0m7 0h0m8 0h0m-49 1h0m16 0h0m3 0h0m3 0h0m6 0h0m-66 1h0m2 0h0m7 0h0m8 0h0m21 0h0m28 0h0m-62 1h0m26 0h0m4 0h0m5 0h0m1 0h0m3 0h0m11 0h0m6 0h0m5 0h0m-65 1h0m19 0h0m5 0h0m22 0h0m4 0h0m13 0h0m-77 1h0m62 0h0m23 0h0m-63 1h0m13 0h0m5 0h0m21 0h0m2 0h0m31 0h0m6 0h0m-67 1h0m2 0h0m1 0h0m23 0h0m33 0h0m-39 1h0m1 0h0m19 0h0m7 0h0m16 0h0m-85 1h0m1 0h0m26 0h0m6 0h0m17 0h0m25 0h0m1 0h0m16 0h0m-86 1h0m16 0h0m4 0h0m18 0h0m5 0h0m19 0h0m11 0h0m13 0h0m-91 1h0m40 0h0m27 0h0m-61 1h0m69 0h0m17 0h0m-83 1h0m1 0h0m7 0h0m-10 1h0m34 0h0m4 0h0m-38 1h0m6 0h0m39 0h0m-31 1h0m48 0h0m1 0h0m-63 1h0m15 0h0m2 0h0m10 0h0m18 0h0m2 0h0m1 0h0m1 0h0m25 0h0m-90 1h0m6 0h0m12 0h0m6 0h0m8 0h0m1 0h0m13 0h0m8 0h0m16 0h0m6 0h0m3 0h0m5 0h0m2 0h0m-76 1h0m14 0h0m25 0h0m6 0h0m4 0h0m3 0h0m36 0h0m-80 1h0m23 0h0m7 0h0m48 0h0m-82 1h0m52 0h0m22 0h0m-66 1h0m19 0h0m39 0h0m6 0h0m-60 1h0m7 0h0m63 0h0m4 0h0m-83 1h0m4 0h0m8 0h0m9 0h0m8 0h0m2 0h0m-21 1h0m15 0h0m2 0h0m28 0h0m4 0h0m18 0h0m-67 1h0m1 0h0m29 0h0m1 0h0m38 0h0m-74 1h0m36 0h0m-35 1h0m16 0h0m3 0h0m12 0h0m4 0h0m30 0h0m-78 1h0m10 0h0m5 0h0m13 0h0m9 0h0m5 0h0m13 0h0m6 0h0m21 0h0m-82 1h0m3 1h0m7 0h0m11 0h0m31 0h0m24 0h0m-72 1h0m13 0h0m1 0h0m19 0h0m11 0h0m22 0h0m6 0h0m-43 1h0m39 0h0m-55 1h0m8 0h0m23 0h0m4 0h0m14 0h0m2 0h0m-35 1h0m6 0h0m7 0h0m11 0h0m3 0h0m5 0h0m6 0h0m3 0h0m10 0h0m-71 1h0m27 0h0m2 0h0m17 0h0m1 0h0m17 0h0m-66 1h0m10 0h0m41 0h0m2 0h0m19 0h0m-76 1h0m28 0h0m6 0h0m4 0h0m2 0h0m7 0h0m19 0h0m-43 1h0m14 0h0m6 0h0m-38 1h0m2 0h0m3 0h0m6 0h0m21 0h0m17 0h0m5 0h0m8 0h0m1 0h0m1 0h0m-49 1h0m10 0h0m9 0h0m12 0h0m17 0h0m3 0h0m-29 1h0m20 0h0m-65 1h0m22 0h0m34 0h0m14 0h0m-77 1h0m11 0h0m22 0h0m5 0h0m28 0h0m10 0h0m-67 1h0m40 0h0m21 0h0m11 0h0m-53 1h0m7 0h0m22 0h0m6 0h0m8 0h0m12 0h0m9 0h0m-90 1h0m13 0h0m17 0h0m3 0h0m7 0h0m44 0h0m-76 1h0m12 0h0m14 0h0m12 0h0m44 0h0m-58 1h0m11 0h0m16 0h0m1 0h0m3 0h0m23 0h0m-79 1h0m6 0h0m3 0h0m3 0h0m7 0h0m7 0h0m1 0h0m2 0h0m16 0h0m11 0h0m9 0h0m-2 1h0m9 0h0m11 0h0m-86 1h0m22 0h0m26 0h0m-6 1h0m20 0h0m3 0h0m-43 1h0m6 0h0m7 0h0m32 0h0m5 0h0m15 0h0m-74 1h0m24 0h0m36 0h0m-68 1h0m21 0h0m1 0h0m2 0h0m4 0h0m13 0h0m11 0h0m2 0h0m4 0h0m4 0h0m-56 1h0m3 0h0m3 0h0m43 0h0m2 0h0m6 0h0m9 0h0m1 0h0m-60 1h0m8 0h0m28 0h0m18 0h0m2 0h0m-47 1h0m35 0h0m16 0h0m-56 1h0m6 0h0m1 0h0m14 0h0m21 0h0m11 0h0m2 0h0m-66 1h0m3 0h0m15 0h0m1 0h0m7 0h0m20 0h0m2 0h0m-35 1h0m6 0h0m10 0h0m15 0h0m-56 1h0m8 0h0m9 0h0m10 0h0m21 0h0m7 0h0m13 0h0m6 0h0m-58 1h0m4 0h0m5 0h0m6 0h0m14 0h0m9 0h0m-38 1h0m8 0h0m9 0h0m6 0h0m1 0h0m2 0h0m11 0h0m17 0h0m4 0h0m6 0h0m-71 1h0m28 0h0m49 0h0m-79 1h0m72 0h0m3 0h0m-74 1h0m22 0h0m24 0h0m11 0h0m8 0h0m-71 1h0m21 0h0m47 0h0m16 0h0m-75 1h0m28 0h0m8 0h0m3 0h0m-2 1h0m22 0h0m7 0h0m-77 1h0m24 0h0m13 0h0m27 0h0m4 0h0m-38 1h0m4 0h0m-6 1h0m22 0h0m4 0h0m-50 1h0m59 0h0m1 0h0m-33 1h0m-17 1h0m44 1h0m26 1h0m-16 5h0m-40 1h0" stroke="#1a1a1a" stroke-width="2.8" stroke-linecap="square" fill="none" opacity="1" filter="url(#b0)"/>
<path transform="scale(.25)" d="m1331 785h0m2 0h0m8 0h0m-65 1h0m40 0h0m-25 1h0m11 0h0m8 0h0m1 0h0m2 0h0m3 0h0m9 0h0m11 0h0m7 0h0m-58 1h0m5 0h0m2 0h0m3 0h0m9 0h0m8 0h0m12 1h0m22 0h0m2 0h0m-62 1h0m14 0h0m8 0h0m33 0h0m-31 1h0m-45 1h0m26 0h0m11 0h0m4 0h0m4 0h0m7 0h0m3 0h0m42 0h0m-68 2h0m20 0h0m25 0h0m2 0h0m-49 1h0m21 0h0m3 0h0m28 0h0m-47 1h0m14 0h0m1 2h0m5 0h0m16 0h0m3 0h0m-49 1h0m14 0h0m42 0h0m-30 1h0m3 0h0m11 0h0m-34 1h0m41 0h0m-43 2h0m14 0h0m1 0h0m17 0h0m-61 1h0m56 1h0m-24 1h0m3 0h0m28 0h0m-15 1h0m36 0h0m-15 1h0m5 1h0m-61 1h0m25 2h0m58 0h0m4 1h0m-25 1h0m14 0h0m-53 2h0m-15 1h0m29 0h0m13 1h0m-41 3h0m2 0h0m40 0h0m8 6h0m2 0h0m8 3h0m-32 2h0m-37 2h0" stroke="#3c3c3c" stroke-width="2.8" stroke-linecap="square" fill="none" opacity="0.85" filter="url(#b0)"/>
<path transform="scale(.25)" d="m1292 489h0m38 3h0m-6 1h0m-8 2h0m-14 1h0m4 8h0m9 1h0m-33 4h0m15 4h0m2 1h0m6 0h0m-25 2h0m21 1h0m11 10h0m-22 1h0m5 2h0m18 1h0m-23 5h0m14 0h0m12 3h0m-16 3h0m5 0h0m-8 2h0m-2 4h0m1 4h0m24 0h0m-40 1h0m46 0h0m-31 2h0m20 0h0m-27 3h0m9 2h0m3 0h0m23 0h0m-34 1h0m37 2h0m-18 1h0m8 0h0m-15 3h0m2 1h0m9 4h0m9 5h0m-10 1h0m-8 1h0m-23 2h0m13 0h0m0 1h0m-10 1h0m10 0h0m18 0h0m13 0h0m-43 1h0m19 0h0m9 0h0m7 0h0m-23 3h0m1 0h0m21 1h0m-42 2h0m15 0h0m24 0h0m14 0h0m-25 1h0m25 0h0m-24 1h0m0 1h0m26 1h0m-12 1h0m-21 2h0m12 0h0m23 1h0m-20 1h0m-43 2h0m53 2h0m-18 1h0m0 1h0m45 0h0m-49 1h0m-7 1h0m4 0h0m6 0h0m-17 1h0m11 1h0m18 0h0m-11 1h0m5 0h0m7 1h0m-24 1h0m9 0h0m15 0h0m-1 1h0m-43 1h0m31 0h0m-8 1h0m30 0h0m16 0h0m-52 1h0m2 1h0m18 0h0m-27 1h0m13 0h0m25 1h0m-29 1h0m1 0h0m19 0h0m3 0h0m-11 3h0m20 0h0m-28 1h0m21 0h0m-14 1h0m16 0h0m-37 1h0m23 0h0m-19 1h0m4 1h0m24 0h0m19 0h0m-49 1h0m12 0h0m3 0h0m1 0h0m-30 1h0m40 0h0m5 1h0m2 0h0m27 1h0m-32 1h0m-15 1h0m2 0h0m17 0h0m12 0h0m-24 1h0m3 0h0m3 0h0m1 0h0m12 0h0m-33 1h0m57 0h0m-49 1h0m14 0h0m11 0h0m-21 2h0m-21 2h0m29 0h0m-32 2h0m12 0h0m11 0h0m-10 1h0m10 0h0m-15 1h0m11 0h0m-13 1h0m19 0h0m8 0h0m8 0h0m-34 1h0m26 1h0m6 0h0m-21 1h0m8 0h0m15 0h0m5 0h0m-4 1h0m-35 1h0m49 0h0m-24 1h0m1 0h0m-12 1h0m20 0h0m29 0h0m-58 1h0m37 0h0m-49 1h0m16 0h0m11 0h0m6 0h0m1 0h0m11 0h0m3 0h0m-26 1h0m3 0h0m1 0h0m3 0h0m26 0h0m-39 1h0m6 0h0m16 0h0m9 0h0m-30 1h0m2 0h0m34 0h0m-48 2h0m14 0h0m10 0h0m-10 1h0m19 0h0m44 0h0m-101 1h0m57 0h0m3 0h0m6 0h0m-39 1h0m3 0h0m12 0h0m-14 1h0m8 0h0m1 0h0m10 0h0m10 0h0m-19 1h0m12 0h0m3 0h0m5 0h0m-15 1h0m10 0h0m46 0h0m-50 1h0m-38 1h0m21 0h0m24 0h0m1 0h0m2 0h0m18 0h0m-42 1h0m12 0h0m1 0h0m22 0h0m-43 1h0m14 0h0m22 0h0m4 0h0m-30 1h0m25 0h0m5 0h0m-45 1h0m13 0h0m9 0h0m2 0h0m21 0h0m-28 1h0m3 0h0m13 0h0m12 1h0m6 0h0m-23 1h0m8 0h0m8 0h0m-30 1h0m10 0h0m10 0h0m7 0h0m-32 1h0m2 0h0m3 0h0m15 0h0m2 0h0m12 0h0m3 0h0m-24 1h0m-13 1h0m23 0h0m2 0h0m-23 1h0m14 0h0m13 0h0m22 0h0m-45 1h0m7 0h0m14 0h0m-34 1h0m3 0h0m15 0h0m3 0h0m1 0h0m20 0h0m-25 1h0m12 0h0m13 0h0m-48 1h0m4 0h0m2 0h0m17 0h0m-30 1h0m37 0h0m1 0h0m3 0h0m14 0h0m17 0h0m-66 1h0m23 0h0m18 0h0m1 0h0m1 0h0m6 0h0m13 0h0m-57 1h0m17 0h0m1 0h0m3 0h0m14 0h0m3 0h0m7 0h0m-35 1h0m2 0h0m7 0h0m4 0h0m13 0h0m4 0h0m1 0h0m3 0h0m2 0h0m2 0h0m-31 1h0m1 0h0m5 0h0m3 0h0m16 0h0" stroke="#3c3c3c" stroke-width="2.8" stroke-linecap="square" fill="none" opacity="0.85" filter="url(#b0)"/>
<radialGradient id="g294120"><stop offset="0" stop-color="#111"/><stop offset="0.2" stop-color="#222"/><stop offset="0.3" stop-color="#d0d0d0"/><stop offset="0.4" stop-color="#c6c6c6"/><stop offset="0.5" stop-color="#999"/><stop offset="0.62" stop-color="#737373" stop-opacity=".95"/><stop offset="0.8" stop-color="#555" stop-opacity=".7"/><stop offset="1" stop-color="#4d4d4d" stop-opacity="0"/></radialGradient>
<ellipse cx="330.8" cy="180.2" rx="13.6" ry="11.0" fill="url(#g294120)" transform="rotate(-30 330.8 180.2)"/>
</g>
<rect x="294.5" y="120.5" width="84.0" height="85.0" fill="none" stroke="#505050" stroke-width="1"/>
<line x1="313.5" y1="120.6" x2="313.5" y2="205.6" stroke="#505050" stroke-width="1"/>
<line x1="294.7" y1="167.5" x2="378.8" y2="167.5" stroke="#505050" stroke-width="1"/>
<rect x="312.60" y="166.30" width="1.80" height="1.80" fill="#000"/>
<line x1="294.7" y1="205.6" x2="294.7" y2="207.4" stroke="#222" stroke-width="0.6"/>
<line x1="292.3" y1="205.6" x2="294.7" y2="205.6" stroke="#222" stroke-width="0.6"/>
<text x="293.7" y="212.8" font-size="4.4" text-anchor="middle" class="t">10<tspan dy="-1.5" font-size="2.8">0</tspan></text>
<text x="292.1" y="207.3" font-size="4.6" text-anchor="end" class="t">10<tspan dy="-1.5" font-size="2.9">0</tspan></text>
<line x1="315.725" y1="205.6" x2="315.725" y2="207.4" stroke="#222" stroke-width="0.6"/>
<line x1="292.3" y1="184.35" x2="294.7" y2="184.35" stroke="#222" stroke-width="0.6"/>
<text x="314.7" y="212.8" font-size="4.4" text-anchor="middle" class="t">10<tspan dy="-1.5" font-size="2.8">1</tspan></text>
<text x="292.1" y="186.0" font-size="4.6" text-anchor="end" class="t">10<tspan dy="-1.5" font-size="2.9">1</tspan></text>
<line x1="336.75" y1="205.6" x2="336.75" y2="207.4" stroke="#222" stroke-width="0.6"/>
<line x1="292.3" y1="163.1" x2="294.7" y2="163.1" stroke="#222" stroke-width="0.6"/>
<text x="335.8" y="212.8" font-size="4.4" text-anchor="middle" class="t">10<tspan dy="-1.5" font-size="2.8">2</tspan></text>
<text x="292.1" y="164.8" font-size="4.6" text-anchor="end" class="t">10<tspan dy="-1.5" font-size="2.9">2</tspan></text>
<line x1="357.775" y1="205.6" x2="357.775" y2="207.4" stroke="#222" stroke-width="0.6"/>
<line x1="292.3" y1="141.85" x2="294.7" y2="141.85" stroke="#222" stroke-width="0.6"/>
<text x="356.8" y="212.8" font-size="4.4" text-anchor="middle" class="t">10<tspan dy="-1.5" font-size="2.8">3</tspan></text>
<text x="292.1" y="143.5" font-size="4.6" text-anchor="end" class="t">10<tspan dy="-1.5" font-size="2.9">3</tspan></text>
<line x1="378.8" y1="205.6" x2="378.8" y2="207.4" stroke="#222" stroke-width="0.6"/>
<line x1="292.3" y1="120.6" x2="294.7" y2="120.6" stroke="#222" stroke-width="0.6"/>
<text x="377.8" y="212.8" font-size="4.4" text-anchor="middle" class="t">10<tspan dy="-1.5" font-size="2.8">4</tspan></text>
<text x="292.1" y="122.3" font-size="4.6" text-anchor="end" class="t">10<tspan dy="-1.5" font-size="2.9">4</tspan></text>
<text x="334.6" y="216.9" font-size="4.1" text-anchor="middle" textLength="32" lengthAdjust="spacingAndGlyphs" class="t">PE-Cy5 Log Comp</text>
<text transform="translate(283.8,163.3) rotate(-90)" font-size="4.7" text-anchor="middle" textLength="31.5" lengthAdjust="spacingAndGlyphs" class="t">APC Log Comp</text>
<text x="297.2" y="125.9" font-size="3.8" class="t">R3</text>
<text x="368.0" y="125.9" font-size="3.8" class="t">R4</text>
<text x="297.2" y="199.6" font-size="3.8" class="t">R5</text>
<text x="368.0" y="199.6" font-size="3.8" class="t">R6</text>
<text x="350.0" y="137.4" font-size="9.0" textLength="24.2" lengthAdjust="spacingAndGlyphs">1.05%</text>
<clipPath id="c398120"><rect x="418.8" y="120.6" width="64.39999999999998" height="84.70000000000002"/></clipPath>
<g clip-path="url(#c398120)">
<rect x="421.4" y="116.6" width="16.0" height="52.0" fill="#424242" filter="url(#b2)"/>
<path d="M416.8 160.6 L441.5 163.6 L444.2 170.8 L443.0 180.8 L438.5 189.8 L431.0 195.8 L423.5 197.8 L416.8 194.8Z" fill="#5e5e5e" filter="url(#b2)"/>
<path transform="scale(.25)" d="m1733 474h0m-37 1h0m17 0h0m2 0h0m5 0h0m25 0h0m-47 1h0m26 0h0m6 0h0m14 0h0m-54 1h0m7 0h0m17 0h0m53 0h0m-83 1h0m27 0h0m13 0h0m-22 1h0m4 0h0m6 0h0m12 0h0m-53 1h0m30 0h0m2 0h0m2 0h0m9 0h0m11 0h0m5 0h0m5 0h0m7 0h0m-47 1h0m11 0h0m16 0h0m2 0h0m-31 1h0m14 0h0m14 0h0m1 0h0m18 0h0m10 0h0m-48 1h0m31 0h0m4 0h0m-44 1h0m5 0h0m6 0h0m1 0h0m12 0h0m25 0h0m-54 1h0m9 0h0m4 0h0m1 0h0m18 0h0m6 0h0m10 0h0m6 0h0m-45 1h0m8 0h0m2 0h0m1 0h0m5 0h0m10 0h0m24 0h0m-49 1h0m3 0h0m22 0h0m1 0h0m18 0h0m-51 1h0m17 0h0m33 0h0m-37 1h0m3 0h0m13 0h0m15 0h0m5 0h0m-45 1h0m6 0h0m26 0h0m2 0h0m-45 1h0m28 0h0m4 0h0m2 0h0m1 0h0m1 0h0m5 0h0m16 0h0m7 0h0m-60 1h0m24 0h0m14 0h0m4 0h0m7 0h0m3 0h0m-39 1h0m6 0h0m33 0h0m-43 1h0m15 0h0m5 0h0m1 0h0m9 0h0m14 0h0m-42 1h0m10 0h0m8 0h0m10 0h0m3 0h0m14 0h0m-58 1h0m16 0h0m8 0h0m6 0h0m28 0h0m6 0h0m-39 1h0m15 0h0m7 0h0m5 0h0m-46 1h0m24 0h0m6 0h0m1 0h0m-29 1h0m15 0h0m5 0h0m7 0h0m7 0h0m7 0h0m10 0h0m-66 1h0m30 0h0m7 0h0m6 0h0m20 0h0m15 0h0m-68 1h0m15 0h0m3 0h0m3 0h0m8 0h0m9 0h0m13 0h0m-38 1h0m5 0h0m-13 1h0m8 0h0m5 0h0m9 0h0m6 0h0m-27 1h0m17 0h0m1 0h0m2 0h0m14 0h0m18 0h0m-34 1h0m13 0h0m6 0h0m1 0h0m8 0h0m-18 1h0m9 0h0m9 0h0m3 0h0m-44 1h0m4 0h0m4 0h0m8 0h0m7 0h0m11 0h0m3 0h0m2 0h0m-50 1h0m28 0h0m2 0h0m16 0h0m3 0h0m-50 1h0m21 0h0m31 0h0m3 0h0m21 0h0m-79 1h0m11 0h0m10 0h0m2 0h0m8 0h0m3 0h0m10 0h0m19 0h0m-59 1h0m21 0h0m3 0h0m-16 1h0m12 0h0m1 0h0m13 0h0m25 0h0m-43 1h0m8 0h0m3 0h0m2 0h0m4 0h0m11 0h0m6 0h0m-43 1h0m4 0h0m41 0h0m7 0h0m-37 1h0m9 0h0m4 0h0m15 0h0m-46 1h0m11 0h0m1 0h0m5 0h0m6 0h0m4 0h0m3 0h0m3 0h0m5 0h0m3 0h0m-35 1h0m10 0h0m6 0h0m7 0h0m-6 1h0m-16 1h0m15 0h0m23 0h0m1 0h0m-66 1h0m16 0h0m24 0h0m9 0h0m-37 1h0m46 0h0m35 0h0m-77 1h0m9 0h0m2 0h0m17 0h0m1 0h0m-36 1h0m29 0h0m2 0h0m11 0h0m12 0h0m14 0h0m-19 1h0m15 0h0m4 0h0m-54 1h0m2 0h0m8 0h0m18 0h0m5 0h0m10 0h0m-29 1h0m7 0h0m2 0h0m2 0h0m4 0h0m6 0h0m10 0h0m-32 1h0m12 0h0m17 0h0m1 0h0m3 0h0m-31 1h0m1 0h0m27 0h0m1 0h0m3 0h0m-75 1h0m35 0h0m2 0h0m6 0h0m10 0h0m4 0h0m17 0h0m1 0h0m15 0h0m-80 1h0m33 0h0m1 0h0m5 0h0m12 0h0m17 0h0m-47 1h0m1 0h0m2 0h0m3 0h0m4 0h0m8 0h0m10 0h0m-18 1h0m1 0h0m3 0h0m23 0h0m3 0h0m24 0h0m-58 1h0m9 0h0m9 0h0m4 0h0m1 0h0m3 0h0m9 0h0m2 0h0m-60 1h0m19 0h0m8 0h0m21 0h0m4 0h0m11 0h0m-43 1h0m2 1h0m5 0h0m6 0h0m19 0h0m-12 1h0m1 0h0m-21 1h0m5 0h0m10 0h0m16 0h0m42 0h0m-91 1h0m25 0h0m11 0h0m3 0h0m1 0h0m1 0h0m18 0h0m-55 1h0m9 0h0m13 0h0m10 0h0m6 0h0m5 0h0m1 0h0m14 0h0m-71 1h0m28 0h0m9 0h0m8 0h0m1 0h0m9 0h0m-15 1h0m5 0h0m2 0h0m9 0h0m6 0h0m15 0h0m6 0h0m-65 1h0m10 0h0m3 0h0m1 0h0m29 0h0m-34 1h0m12 0h0m7 0h0m6 0h0m6 0h0m11 0h0m-37 1h0m20 0h0m6 0h0m3 0h0m19 0h0m-69 1h0m16 0h0m12 0h0m5 0h0m2 0h0m-32 1h0m22 0h0m9 0h0m2 0h0m3 0h0m-35 1h0m4 0h0m15 0h0m14 0h0m3 0h0m-45 1h0m15 0h0m4 0h0m11 0h0m12 0h0m19 0h0m-48 1h0m10 0h0m30 0h0m-29 1h0m13 0h0m-6 1h0m5 0h0m3 0h0m5 0h0m15 0h0m-48 1h0m21 0h0m19 0h0m-38 1h0m24 0h0m7 0h0m-18 1h0m1 0h0m2 0h0m6 0h0m7 0h0m16 0h0m3 0h0m15 0h0m-54 1h0m6 0h0m5 0h0m6 0h0m2 0h0m1 0h0m5 0h0m8 0h0m-56 1h0m26 0h0m1 0h0m8 0h0m7 0h0m11 0h0m2 0h0m-50 1h0m13 0h0m11 0h0m3 0h0m9 0h0m9 0h0m4 0h0m5 0h0m9 0h0m-27 1h0m38 0h0m-54 1h0m4 0h0m3 0h0m9 0h0m4 0h0m-33 1h0m9 0h0m3 0h0m25 0h0m6 0h0m2 0h0m-29 1h0m1 0h0m4 0h0m3 0h0m3 0h0m7 0h0m14 0h0m3 0h0m-49 1h0m3 0h0m3 0h0m7 0h0m1 0h0m62 0h0m-65 1h0m6 0h0m-6 1h0m16 0h0m1 0h0m6 0h0m12 0h0m12 0h0m-44 1h0m5 0h0m19 0h0m-17 1h0m-14 1h0m10 0h0m2 0h0m42 0h0m-27 1h0m-39 1h0m6 0h0m1 0h0m9 0h0m1 0h0m18 0h0m7 0h0m3 0h0m-44 1h0m16 0h0m2 0h0m30 0h0m-47 1h0m26 0h0m1 0h0m9 0h0m-50 1h0m12 0h0m9 0h0m2 0h0m14 0h0m3 0h0m5 0h0m14 0h0m-43 1h0m8 0h0m12 0h0m1 0h0m7 0h0m4 0h0m1 0h0m2 0h0m36 0h0m-74 1h0m11 0h0m4 0h0m25 0h0m2 0h0m4 0h0m9 0h0m-57 1h0m10 0h0m16 0h0m9 0h0m-3 1h0m4 0h0m4 0h0m1 0h0m-32 1h0m1 0h0m14 0h0m39 0h0m-73 1h0m24 0h0m4 0h0m1 0h0m2 0h0m8 0h0m29 0h0m-49 1h0m19 0h0m2 0h0m2 0h0m7 0h0m3 0h0m6 0h0m13 0h0m-61 1h0m15 0h0m11 0h0m9 0h0m11 0h0m8 0h0m-30 1h0m14 0h0m-18 1h0m6 0h0m17 0h0m-51 1h0m19 0h0m4 0h0m19 0h0m7 0h0m16 0h0m11 0h0m-47 1h0m4 0h0m16 0h0m16 0h0m-74 1h0m13 0h0m10 0h0m17 0h0m9 0h0m12 0h0m1 0h0m4 0h0m-34 1h0m35 0h0m-40 1h0m10 0h0m4 0h0m2 0h0m7 0h0m11 0h0m12 0h0m-47 1h0m5 0h0m12 0h0m12 0h0m23 0h0m-89 1h0m73 0h0m18 0h0m-46 1h0m24 0h0m11 0h0m-45 1h0m19 0h0m6 0h0m10 0h0m10 0h0m-50 1h0m6 0h0m35 0h0m-39 1h0m34 0h0m7 0h0m8 0h0m-60 1h0m31 0h0m6 0h0m9 0h0m8 0h0m4 0h0m10 0h0m-53 1h0m37 0h0m-57 1h0m12 0h0m18 0h0m13 0h0m4 0h0m1 0h0m1 0h0m11 0h0m-41 1h0m17 0h0m16 0h0m16 0h0m-57 1h0m8 0h0m1 0h0m5 0h0m24 0h0m10 0h0m5 0h0m4 0h0m-69 1h0m25 0h0m16 0h0m20 0h0m3 0h0m-42 1h0m29 0h0m16 0h0m-50 1h0m45 0h0m-31 1h0m1 0h0m5 0h0m5 0h0m2 0h0m3 0h0m23 0h0m-31 1h0m1 0h0m11 0h0m2 0h0m12 0h0m-44 1h0m12 0h0m4 0h0m5 0h0m7 0h0m5 0h0m25 0h0m6 0h0m-73 1h0m5 0h0m19 0h0m5 0h0m5 0h0m5 0h0m-32 1h0m16 0h0m5 0h0m3 0h0m14 0h0m-23 1h0m21 0h0m1 0h0m22 0h0m-96 1h0m58 0h0m3 0h0m1 0h0m5 0h0m14 0h0m-44 1h0m6 0h0m15 0h0m2 0h0m15 0h0m10 0h0m4 0h0m-61 1h0m6 0h0m17 0h0m8 0h0m8 0h0m2 0h0m-39 1h0m10 0h0m6 0h0m1 0h0m10 0h0m-22 1h0m1 0h0m1 0h0m38 0h0m-27 1h0m1 0h0m11 0h0m8 0h0m10 0h0m5 0h0m-66 1h0m25 0h0m15 0h0m1 0h0m18 0h0m3 0h0m2 0h0m-11 1h0m-29 1h0m7 0h0m1 0h0m5 0h0m13 0h0m2 0h0m8 0h0m1 0h0m2 0h0m-38 1h0m9 0h0m5 0h0m24 0h0m-31 1h0m12 0h0m-4 1h0m8 0h0m4 0h0m18 0h0m6 0h0m-51 1h0m6 0h0m3 0h0m2 0h0m10 0h0m21 0h0m5 0h0m-58 1h0m12 0h0m6 0h0m19 0h0m-59 1h0m14 0h0m18 0h0m9 0h0m6 0h0m2 0h0m-33 1h0m20 0h0m5 0h0m4 0h0m5 0h0m17 0h0m10 0h0m7 0h0m12 0h0m-69 1h0m3 0h0m29 0h0m6 0h0m-48 1h0m23 0h0m18 0h0m5 0h0m18 0h0m-52 1h0m10 0h0m6 0h0m4 0h0m13 0h0m9 0h0m-45 1h0m11 0h0m1 0h0m8 0h0m1 0h0m1 0h0m11 0h0m5 0h0m3 0h0m-37 1h0m9 0h0m2 0h0m4 0h0m9 0h0m7 0h0m-19 1h0m5 0h0m7 0h0m2 0h0m-12 1h0m5 0h0m5 0h0m6 0h0m9 0h0m-49 1h0m28 0h0m1 0h0m2 0h0m14 0h0m1 0h0m7 0h0m7 0h0m-29 1h0m8 0h0m-40 1h0m24 0h0m11 0h0m-34 1h0m13 0h0m4 0h0m15 0h0m1 0h0m9 0h0m-25 1h0m2 0h0m3 0h0m3 0h0m5 0h0m52 0h0m-51 1h0m14 0h0m2 0h0m-37 1h0m3 0h0m8 0h0m1 0h0m3 0h0m9 0h0m1 0h0m7 0h0m1 0h0m-25 1h0m13 0h0m1 0h0m17 0h0m3 0h0m12 0h0m-46 1h0m12 0h0m3 0h0m7 0h0m31 0h0m-75 1h0m18 0h0m1 0h0m2 0h0m12 0h0m6 0h0m3 0h0m10 0h0m-46 1h0m7 0h0m15 0h0m17 0h0m-61 1h0m3 0h0m29 0h0m12 0h0m2 0h0m5 0h0m5 0h0m1 0h0m13 0h0m-69 1h0m5 0h0m91 0h0m-93 1h0m20 0h0m12 0h0m11 0h0m4 0h0m1 0h0m1 0h0m17 0h0m14 0h0m-62 1h0m17 0h0m2 0h0m10 0h0m1 0h0m11 0h0m-36 1h0m9 0h0m10 0h0m3 0h0m31 0h0m6 0h0m8 0h0m-75 1h0m11 0h0m10 0h0m12 0h0m9 0h0m2 0h0m-32 1h0m1 0h0m3 0h0m1 0h0m1 0h0m-34 1h0m30 0h0m2 0h0m5 0h0m17 0h0m27 0h0m2 0h0m-70 1h0m14 0h0m14 0h0m41 0h0m-38 1h0m10 0h0m4 0h0m6 0h0m10 0h0m-38 1h0m12 0h0m9 0h0m12 0h0m-40 1h0m6 0h0m14 0h0m8 0h0m6 0h0m17 1h0m1 0h0m-35 1h0m8 0h0m-36 1h0m19 0h0m8 0h0m19 0h0m-40 1h0m53 0h0m-42 1h0m39 0h0m14 0h0m-57 1h0m7 0h0m18 0h0m3 0h0m3 0h0m4 0h0m19 0h0m-55 1h0m2 0h0m2 0h0m9 0h0m3 0h0m4 0h0m31 0h0m-52 1h0m8 0h0m7 0h0m4 0h0m3 0h0m3 0h0m11 0h0m9 0h0m-32 1h0m7 0h0m15 0h0m-58 1h0m2 0h0m31 0h0m1 0h0m2 0h0m6 0h0m2 0h0m3 0h0m-18 1h0m24 0h0m6 0h0m12 0h0m-64 1h0m25 0h0m2 0h0m7 0h0m5 0h0m-28 1h0m38 0h0m8 0h0m2 0h0m-46 1h0m10 0h0m17 0h0m-23 1h0m6 0h0m18 0h0m3 0h0m14 0h0m12 0h0m-54 1h0m2 0h0m2 0h0m3 0h0m19 0h0m1 0h0m-22 1h0m10 0h0m6 0h0m18 0h0m5 0h0m-33 1h0m2 0h0m2 0h0m16 0h0m2 0h0m8 0h0m7 0h0m-55 1h0m23 0h0m4 0h0m12 0h0m-39 1h0m12 0h0m8 0h0m44 0h0" stroke="#1c1c1c" stroke-width="2.8" stroke-linecap="square" fill="none" opacity="1" filter="url(#b0)"/>
<path transform="scale(.25)" d="m1720 591h0m-4 7h0m-9 7h0m7 3h0m-27 3h0m26 1h0m-15 2h0m11 1h0m-1 4h0m-48 1h0m-24 1h0m45 0h0m49 0h0m-66 5h0m42 0h0m18 1h0m-22 1h0m21 2h0m9 0h0m10 0h0m-26 1h0m0 2h0m22 0h0m-8 1h0m2 0h0m18 1h0m-42 1h0m16 1h0m5 0h0m4 1h0m-56 2h0m42 0h0m-20 1h0m43 0h0m-39 1h0m25 0h0m12 0h0m-19 1h0m25 0h0m5 0h0m-93 2h0m35 0h0m15 0h0m13 1h0m4 0h0m14 0h0m2 0h0m22 0h0m-92 1h0m52 0h0m-39 1h0m10 0h0m22 0h0m55 0h0m-83 1h0m2 0h0m1 0h0m33 0h0m35 0h0m-97 1h0m17 0h0m27 0h0m39 0h0m18 0h0m2 0h0m-82 1h0m27 0h0m-27 1h0m5 0h0m36 0h0m12 0h0m3 0h0m15 0h0m1 0h0m-57 1h0m24 0h0m6 0h0m4 0h0m-13 1h0m13 0h0m6 0h0m11 1h0m24 0h0m-96 1h0m20 0h0m-3 1h0m18 0h0m4 0h0m12 0h0m5 0h0m11 0h0m14 0h0m-67 1h0m21 0h0m13 0h0m2 0h0m15 0h0m8 0h0m-70 1h0m57 0h0m-51 1h0m40 0h0m2 0h0m1 0h0m6 0h0m-85 1h0m27 0h0m5 0h0m29 0h0m18 0h0m4 0h0m10 0h0m11 0h0m-65 1h0m2 0h0m6 0h0m18 0h0m24 0h0m-33 1h0m10 0h0m13 0h0m5 0h0m37 0h0m6 0h0m12 0h0m-100 1h0m19 0h0m3 0h0m18 0h0m4 0h0m7 0h0m-71 1h0m22 0h0m18 0h0m4 0h0m10 0h0m13 0h0m10 0h0m2 0h0m-59 1h0m13 0h0m13 0h0m18 0h0m9 0h0m23 0h0m8 0h0m-101 1h0m4 0h0m49 0h0m-54 1h0m44 0h0m17 0h0m2 0h0m18 0h0m-76 1h0m15 0h0m3 0h0m18 0h0m10 0h0m32 0h0m-82 1h0m43 0h0m21 0h0m8 0h0m4 0h0m-65 1h0m11 0h0m8 0h0m13 0h0m13 0h0m10 0h0m23 0h0m7 0h0m-77 1h0m14 0h0m1 0h0m4 0h0m12 0h0m2 0h0m1 0h0m10 0h0m-40 1h0m8 0h0m1 0h0m8 0h0m13 0h0m4 0h0m3 0h0m11 0h0m19 0h0m-77 1h0m4 0h0m13 0h0m9 0h0m1 0h0m1 0h0m2 0h0m14 0h0m13 0h0m7 0h0m16 0h0m17 0h0m-84 1h0m7 0h0m10 0h0m15 0h0m17 0h0m3 0h0m1 0h0m36 0h0m-141 1h0m36 0h0m3 0h0m10 0h0m11 0h0m2 0h0m47 0h0m-64 1h0m9 0h0m6 0h0m3 0h0m4 0h0m1 0h0m6 0h0m1 0h0m10 0h0m5 0h0m22 0h0m7 0h0m-120 1h0m24 0h0m52 0h0m8 0h0m7 0h0m6 0h0m3 0h0m3 0h0m-69 1h0m5 0h0m16 0h0m1 0h0m1 0h0m3 0h0m2 0h0m23 0h0m1 0h0m4 0h0m2 0h0m8 0h0m12 0h0m-90 1h0m13 0h0m2 0h0m3 0h0m15 0h0m4 0h0m4 0h0m5 0h0m17 0h0m22 0h0m50 0h0m-118 1h0m6 0h0m3 0h0m6 0h0m9 0h0m3 0h0m12 0h0m2 0h0m1 0h0m2 0h0m4 0h0m6 0h0m6 0h0m5 0h0m-61 1h0m7 0h0m23 0h0m9 0h0m4 0h0m15 0h0m-57 1h0m11 0h0m9 0h0m2 0h0m1 0h0m2 0h0m3 0h0m2 0h0m2 0h0m1 0h0m2 0h0m2 0h0m-60 1h0m30 0h0m13 0h0m13 0h0m5 0h0m19 0h0m11 0h0m-88 1h0m4 0h0m11 0h0m5 0h0m16 0h0m10 0h0m4 0h0m3 0h0m8 0h0m1 0h0m-83 1h0m40 0h0m2 0h0m13 0h0m2 0h0m8 0h0m25 0h0m4 0h0m3 0h0m5 0h0m-59 1h0m12 0h0m8 0h0m9 0h0m4 0h0m4 0h0m5 0h0m-39 1h0m6 0h0m1 0h0m4 0h0m5 0h0m4 0h0m14 0h0m7 0h0m2 0h0m3 0h0m11 0h0m12 0h0m-95 1h0m13 0h0m6 0h0m15 0h0m16 0h0m4 0h0m4 0h0m8 0h0m5 0h0m13 0h0m23 0h0m-101 1h0m20 0h0m6 0h0m1 0h0m33 0h0m3 0h0m1 0h0m1 0h0m-54 1h0m11 0h0m1 0h0m5 0h0m6 0h0m9 0h0m9 0h0m1 0h0m16 0h0m14 0h0m5 0h0m25 0h0m-134 1h0m41 0h0m9 0h0m6 0h0m5 0h0m3 0h0m13 0h0m6 0h0m7 0h0m21 0h0m8 0h0m-128 1h0m22 0h0m18 0h0m5 0h0m2 0h0m14 0h0m1 0h0m5 0h0m1 0h0m1 0h0m2 0h0m7 0h0m8 0h0m11 0h0m3 0h0m5 0h0m11 0h0m-84 1h0m11 0h0m28 0h0m6 0h0m7 0h0m11 0h0m4 0h0m9 0h0m4 0h0m6 0h0m-82 1h0m17 0h0m6 0h0m19 0h0m2 0h0m4 0h0m3 0h0m2 0h0m6 0h0m5 0h0m9 0h0m-84 1h0m20 0h0m10 0h0m3 0h0m4 0h0m5 0h0m2 0h0m7 0h0m3 0h0m1 0h0m16 0h0m1 0h0m2 0h0m8 0h0m31 0h0m-121 1h0m24 0h0m11 0h0m7 0h0m1 0h0m14 0h0m5 0h0m1 0h0m1 0h0m3 0h0m5 0h0m4 0h0m3 0h0m-50 1h0m3 0h0m7 0h0m1 0h0m7 0h0m5 0h0m12 0h0m8 0h0m13 0h0m3 0h0m-68 1h0m5 0h0m1 0h0m26 0h0m4 0h0m2 0h0m2 0h0m10 0h0m11 0h0m5 0h0m4 0h0m-46 1h0m19 0h0m7 0h0m4 0h0m10 0h0m47 0h0m-126 1h0m11 0h0m20 0h0m6 0h0m3 0h0m13 0h0m6 0h0m1 0h0m1 0h0m9 0h0m5 0h0m1 0h0m2 0h0m-61 1h0m21 0h0m11 0h0m14 0h0m7 0h0m22 0h0m6 0h0m-103 1h0m40 0h0m5 0h0m23 0h0m1 0h0m4 0h0m1 0h0m-65 1h0m17 0h0m2 0h0m10 0h0m6 0h0m3 0h0m3 0h0m6 0h0m1 0h0m21 0h0m4 0h0m7 0h0m-91 1h0m46 0h0m7 0h0m6 0h0m4 0h0m1 0h0m4 0h0m13 0h0m7 0h0m2 0h0m-69 1h0m12 0h0m11 0h0m8 0h0m1 0h0m5 0h0m3 0h0m1 0h0m1 0h0m10 0h0m10 0h0m-54 1h0m8 0h0m9 0h0m14 0h0m4 0h0m9 0h0m13 0h0m4 0h0m8 0h0m5 0h0m1 0h0m-83 1h0m4 0h0m2 0h0m12 0h0m3 0h0m5 0h0m4 0h0m9 0h0m6 0h0m2 0h0m4 0h0m7 0h0m2 0h0m15 0h0m1 0h0m15 0h0m-71 1h0m2 0h0m15 0h0m5 0h0m7 0h0m1 0h0m3 0h0m1 0h0m1 0h0m11 0h0m4 0h0m4 0h0m-52 1h0m4 0h0m1 0h0m10 0h0m4 0h0m5 0h0m2 0h0m32 0h0m10 0h0m-111 1h0m5 0h0m10 0h0m4 0h0m22 0h0m19 0h0m1 0h0m11 0h0m10 0h0m1 0h0m-50 1h0m1 0h0m7 0h0m4 0h0m3 0h0m3 0h0m10 0h0m2 0h0m19 0h0m8 0h0m1 0h0m14 0h0m4 0h0m10 0h0m-133 1h0m37 0h0m5 0h0m3 0h0m7 0h0m4 0h0m2 0h0m12 0h0m1 0h0m1 0h0m2 0h0m7 0h0m3 0h0m1 0h0m7 0h0m2 0h0m2 0h0m6 0h0m-84 1h0m3 0h0m4 0h0m4 0h0m10 0h0m2 0h0m12 0h0m3 0h0m4 0h0m23 0h0m6 0h0m-28 1h0m2 0h0m12 0h0m15 0h0m4 0h0m-51 1h0m7 0h0m7 0h0m6 0h0m2 0h0m10 0h0m3 0h0m2 0h0m6 0h0m8 0h0m-65 1h0m8 0h0m4 0h0m2 0h0m14 0h0m4 0h0m1 0h0m3 0h0m1 0h0m6 0h0m5 0h0m1 0h0m1 0h0m2 0h0m7 0h0m9 0h0m32 0h0m-90 1h0m5 0h0m11 0h0m9 0h0m1 0h0m3 0h0m3 0h0m25 0h0m2 0h0m-69 1h0m21 0h0m10 0h0m19 0h0m14 0h0m18 0h0m-73 1h0m2 0h0m9 0h0m6 0h0m2 0h0m7 0h0m1 0h0m6 0h0m9 0h0m3 0h0m9 0h0m-62 1h0m6 0h0m8 0h0m9 0h0m2 0h0m5 0h0m11 0h0m3 0h0m1 0h0m4 0h0m8 0h0m4 0h0m5 0h0m5 0h0m43 0h0m-108 1h0m9 0h0m7 0h0m17 0h0m3 0h0m2 0h0m7 0h0m4 0h0m4 0h0m4 0h0m1 0h0m3 0h0m-46 1h0m9 0h0m5 0h0m17 0h0m3 0h0m10 0h0m9 0h0m-62 1h0m32 0h0m1 0h0m1 0h0m7 0h0m26 0h0m7 0h0m1 0h0m5 0h0m25 0h0m-88 1h0m1 0h0m43 0h0m3 0h0m3 0h0m16 0h0m-100 1h0m4 0h0m3 0h0m21 0h0m3 0h0m3 0h0m5 0h0m40 0h0m-56 1h0m5 0h0m25 0h0m10 0h0m11 0h0m-54 1h0m21 0h0m8 0h0m1 0h0m4 0h0m8 0h0m-53 1h0m6 0h0m1 0h0m3 0h0m15 0h0m2 0h0m10 0h0m14 0h0m6 0h0m1 0h0m1 0h0m-68 1h0m5 0h0m33 0h0m2 0h0m1 0h0m-25 1h0m12 0h0m1 0h0m4 0h0m4 0h0m1 0h0m3 0h0m3 0h0m1 0h0m4 0h0m11 0h0m3 0h0m6 0h0m19 0h0m-75 1h0m23 0h0m3 0h0m9 0h0m5 0h0m3 0h0m2 0h0m2 0h0m2 0h0m7 0h0m3 0h0m-48 1h0m2 0h0m21 0h0m2 0h0m3 0h0m3 0h0m8 0h0m4 0h0m3 0h0m-85 1h0m35 0h0m3 0h0m10 0h0m2 0h0m8 0h0m5 0h0m1 0h0m2 0h0m4 0h0m3 0h0m11 0h0m18 0h0m-78 1h0m25 0h0m20 0h0m5 0h0m-50 1h0m11 0h0m9 0h0m20 0h0m8 0h0m16 0h0m-48 1h0m4 0h0m1 0h0m1 0h0m41 0h0m-59 1h0m20 0h0m4 0h0m2 0h0m3 0h0m2 0h0m12 0h0m7 0h0m13 0h0m13 0h0m-55 1h0m24 0h0m-37 1h0m12 0h0m1 0h0m9 0h0m12 0h0m25 0h0m-33 1h0m21 0h0m2 0h0m2 0h0m-46 1h0m14 0h0m6 0h0m2 0h0m1 0h0m2 0h0m2 0h0m9 0h0m14 0h0m9 0h0m-26 1h0m1 0h0m4 0h0m6 0h0m-61 1h0m2 0h0m13 0h0m11 0h0m4 0h0m-34 1h0m24 0h0m17 0h0m1 0h0m15 0h0m17 0h0m20 0h0m-101 1h0m4 0h0m4 0h0m1 0h0m11 0h0m2 0h0m33 0h0m6 0h0m4 0h0m6 0h0m1 0h0m13 0h0m-28 1h0m-33 1h0m40 0h0m16 0h0m3 0h0m-74 1h0m8 0h0m14 0h0m15 0h0m26 0h0m12 0h0m-40 1h0m7 0h0m9 0h0m-43 1h0m34 0h0m24 0h0m7 0h0m-69 1h0m51 0h0m3 0h0m-33 1h0m3 0h0m5 0h0m10 0h0m1 0h0m18 0h0m21 0h0m-82 1h0m30 0h0m51 0h0m-68 1h0m22 0h0m-59 1h0m42 0h0m8 0h0m25 0h0m-42 1h0m31 0h0m10 0h0m-45 1h0m14 0h0m7 0h0m3 0h0m4 0h0m16 0h0m13 0h0m13 0h0m5 0h0m-86 1h0m33 0h0m7 0h0m-22 1h0m14 0h0m3 0h0m-24 1h0m21 0h0m27 0h0m7 0h0m2 0h0m-46 1h0m6 0h0m5 0h0m6 0h0m19 0h0m0 2h0m9 0h0m-26 1h0m30 0h0m-48 1h0m7 0h0m9 0h0m38 0h0m-48 1h0m32 0h0m-31 1h0m6 0h0m10 0h0m-40 1h0m30 1h0m-28 1h0m43 1h0m15 0h0m-44 2h0m36 2h0m-55 2h0m65 3h0m-47 2h0m18 4h0m-25 7h0m48 3h0m-40 1h0m2 7h0m24 5h0" stroke="#1c1c1c" stroke-width="2.8" stroke-linecap="square" fill="none" opacity="1" filter="url(#b0)"/>
<path transform="scale(.25)" d="m1764 639h0m13 2h0m1 4h0m-28 2h0m2 0h0m13 0h0m4 3h0m-30 1h0m22 1h0m-12 1h0m10 1h0m-2 1h0m9 0h0m9 0h0m-21 1h0m13 0h0m3 0h0m6 1h0m-20 1h0m13 0h0m1 0h0m-11 1h0m16 1h0m-24 1h0m7 1h0m1 1h0m0 1h0m3 0h0m6 0h0m7 0h0m-13 1h0m1 0h0m-2 1h0m8 0h0m4 0h0m-13 1h0m2 1h0m2 0h0m1 0h0m1 0h0m2 0h0m1 0h0m1 0h0m-10 1h0m9 0h0m-18 1h0m17 0h0m1 0h0m1 0h0m2 0h0m-24 1h0m6 0h0m19 0h0m-12 1h0m-10 1h0m9 0h0m3 0h0m-3 1h0m7 0h0m-12 1h0m4 0h0m1 1h0m1 0h0m11 0h0m-9 1h0m3 0h0m13 0h0m-21 1h0m5 0h0m-5 1h0m10 0h0m-12 1h0m2 0h0m2 0h0m9 0h0m-15 1h0m3 0h0m13 0h0m-10 1h0m9 0h0m-9 1h0m1 0h0m22 0h0m-40 1h0m19 0h0m2 0h0m4 0h0m-16 1h0m7 0h0m8 0h0m2 1h0m4 0h0m-27 1h0m26 0h0m-17 1h0m17 0h0m-17 1h0m5 0h0m-13 1h0m4 0h0m3 0h0m9 0h0m7 0h0m5 0h0m-29 1h0m10 0h0m9 0h0m2 0h0m-7 1h0m2 0h0m4 0h0m-7 1h0m12 0h0m-8 1h0m1 0h0m11 1h0m-15 1h0m11 0h0m-26 1h0m9 0h0m2 0h0m2 1h0m5 1h0m-7 1h0m4 0h0m-1 1h0m10 0h0m15 0h0m-30 1h0m25 0h0m-34 1h0m21 2h0m2 0h0m16 1h0m-29 2h0m1 1h0m5 0h0m12 0h0m-16 1h0m2 11h0m-13 4h0m14 6h0" stroke="#1c1c1c" stroke-width="2.8" stroke-linecap="square" fill="none" opacity="1" filter="url(#b0)"/>
<path transform="scale(.25)" d="m1706 763h0m3 0h0m-22 1h0m5 0h0m20 0h0m20 0h0m-51 1h0m26 0h0m1 0h0m-25 1h0m1 0h0m5 0h0m33 0h0m5 0h0m4 0h0m-30 1h0m4 0h0m9 0h0m19 0h0m-50 1h0m17 0h0m10 0h0m1 0h0m-22 1h0m15 0h0m20 1h0m-51 1h0m49 0h0m3 0h0m6 0h0m10 0h0m-43 1h0m5 0h0m24 0h0m-38 1h0m10 0h0m13 0h0m1 0h0m2 0h0m14 0h0m-23 1h0m30 0h0m-77 1h0m36 0h0m11 0h0m-12 1h0m1 0h0m9 0h0m-1 1h0m1 0h0m5 0h0m12 0h0m-33 1h0m17 0h0m2 0h0m-19 1h0m8 0h0m17 0h0m-29 1h0m15 0h0m4 0h0m27 0h0m5 1h0m-44 1h0m22 0h0m5 0h0m30 0h0m-57 1h0m21 0h0m1 0h0m6 0h0m4 0h0m13 0h0m-44 1h0m11 0h0m-28 1h0m15 0h0m23 0h0m-39 1h0m34 2h0m1 0h0m33 0h0m-21 1h0m10 0h0m-26 1h0m5 0h0m23 0h0m-74 1h0m33 0h0m5 0h0m3 1h0m3 0h0m-17 1h0m17 0h0m18 3h0m1 0h0m-46 1h0m43 0h0m12 0h0m-57 1h0m4 0h0m6 0h0m17 3h0m3 0h0m-4 1h0m4 0h0m6 0h0m10 0h0m-38 1h0m29 4h0m14 0h0m-15 1h0m3 0h0m-10 2h0m2 0h0m12 23h0m-39 3h0" stroke="#333" stroke-width="2.8" stroke-linecap="square" fill="none" opacity="1" filter="url(#b0)"/>
<radialGradient id="g398120"><stop offset="0" stop-color="#cfcfcf" stop-opacity="0.92"/><stop offset="0.3" stop-color="#b0b0b0" stop-opacity="0.82"/><stop offset="0.62" stop-color="#868686" stop-opacity="0.55"/><stop offset="1" stop-color="#505050" stop-opacity="0"/></radialGradient>
<ellipse cx="429.0" cy="174.8" rx="11" ry="12.8" fill="url(#g398120)" transform="rotate(-15 430.0 174.8)"/>
</g>
<rect x="398.5" y="120.5" width="85.0" height="85.0" fill="none" stroke="#505050" stroke-width="1"/>
<line x1="417.5" y1="120.6" x2="417.5" y2="205.3" stroke="#505050" stroke-width="1"/>
<line x1="398.8" y1="162.5" x2="483.2" y2="162.5" stroke="#505050" stroke-width="1"/>
<rect x="416.60" y="161.70" width="1.80" height="1.80" fill="#000"/>
<line x1="398.8" y1="205.3" x2="398.8" y2="207.10000000000002" stroke="#222" stroke-width="0.6"/>
<line x1="396.40000000000003" y1="205.3" x2="398.8" y2="205.3" stroke="#222" stroke-width="0.6"/>
<text x="397.8" y="212.5" font-size="4.4" text-anchor="middle" class="t">10<tspan dy="-1.5" font-size="2.8">0</tspan></text>
<text x="396.2" y="207.0" font-size="4.6" text-anchor="end" class="t">10<tspan dy="-1.5" font-size="2.9">0</tspan></text>
<line x1="419.9" y1="205.3" x2="419.9" y2="207.10000000000002" stroke="#222" stroke-width="0.6"/>
<line x1="396.40000000000003" y1="184.125" x2="398.8" y2="184.125" stroke="#222" stroke-width="0.6"/>
<text x="418.9" y="212.5" font-size="4.4" text-anchor="middle" class="t">10<tspan dy="-1.5" font-size="2.8">1</tspan></text>
<text x="396.2" y="185.8" font-size="4.6" text-anchor="end" class="t">10<tspan dy="-1.5" font-size="2.9">1</tspan></text>
<line x1="441.0" y1="205.3" x2="441.0" y2="207.10000000000002" stroke="#222" stroke-width="0.6"/>
<line x1="396.40000000000003" y1="162.95" x2="398.8" y2="162.95" stroke="#222" stroke-width="0.6"/>
<text x="440.0" y="212.5" font-size="4.4" text-anchor="middle" class="t">10<tspan dy="-1.5" font-size="2.8">2</tspan></text>
<text x="396.2" y="164.6" font-size="4.6" text-anchor="end" class="t">10<tspan dy="-1.5" font-size="2.9">2</tspan></text>
<line x1="462.1" y1="205.3" x2="462.1" y2="207.10000000000002" stroke="#222" stroke-width="0.6"/>
<line x1="396.40000000000003" y1="141.775" x2="398.8" y2="141.775" stroke="#222" stroke-width="0.6"/>
<text x="461.1" y="212.5" font-size="4.4" text-anchor="middle" class="t">10<tspan dy="-1.5" font-size="2.8">3</tspan></text>
<text x="396.2" y="143.5" font-size="4.6" text-anchor="end" class="t">10<tspan dy="-1.5" font-size="2.9">3</tspan></text>
<line x1="483.2" y1="205.3" x2="483.2" y2="207.10000000000002" stroke="#222" stroke-width="0.6"/>
<line x1="396.40000000000003" y1="120.6" x2="398.8" y2="120.6" stroke="#222" stroke-width="0.6"/>
<text x="482.2" y="212.5" font-size="4.4" text-anchor="middle" class="t">10<tspan dy="-1.5" font-size="2.8">4</tspan></text>
<text x="396.2" y="122.3" font-size="4.6" text-anchor="end" class="t">10<tspan dy="-1.5" font-size="2.9">4</tspan></text>
<text x="438.9" y="216.6" font-size="4.1" text-anchor="middle" textLength="32" lengthAdjust="spacingAndGlyphs" class="t">PE-Cy5 Log Comp</text>
<text transform="translate(387.9,163.1) rotate(-90)" font-size="4.7" text-anchor="middle" textLength="31.5" lengthAdjust="spacingAndGlyphs" class="t">APC Log Comp</text>
<text x="401.3" y="125.9" font-size="3.8" class="t">R3</text>
<text x="472.4" y="125.9" font-size="3.8" class="t">R4</text>
<text x="401.3" y="199.3" font-size="3.8" class="t">R5</text>
<text x="472.4" y="199.3" font-size="3.8" class="t">R6</text>
<text x="451.0" y="138.5" font-size="9.0" textLength="29.2" lengthAdjust="spacingAndGlyphs">23.91%</text>
<text x="486.1" y="63.2" font-size="8.8" textLength="34.2" lengthAdjust="spacingAndGlyphs">w/o MSC</text>
<text x="487.5" y="170.6" font-size="8.8" textLength="27.6" lengthAdjust="spacingAndGlyphs">w MSC</text>
<text x="315.8" y="239.2" font-size="9.8" textLength="17.4" lengthAdjust="spacingAndGlyphs">CD3</text>
<text transform="translate(268.9,201.4) rotate(-90)" font-size="9.4" textLength="48.8" lengthAdjust="spacingAndGlyphs">IFN-gamma</text>
<line x1="275.2" y1="223.5" x2="275.2" y2="125" stroke="#000" stroke-width="1.5"/>
<line x1="274.45" y1="222.8" x2="372" y2="222.8" stroke="#000" stroke-width="1.5"/>
<polygon points="275.2,118.2 270.8,127 279.6,127" fill="#000"/>
<polygon points="378.2,222.8 370,218.3 370,227.3" fill="#000"/>
</svg>
</body></html>
